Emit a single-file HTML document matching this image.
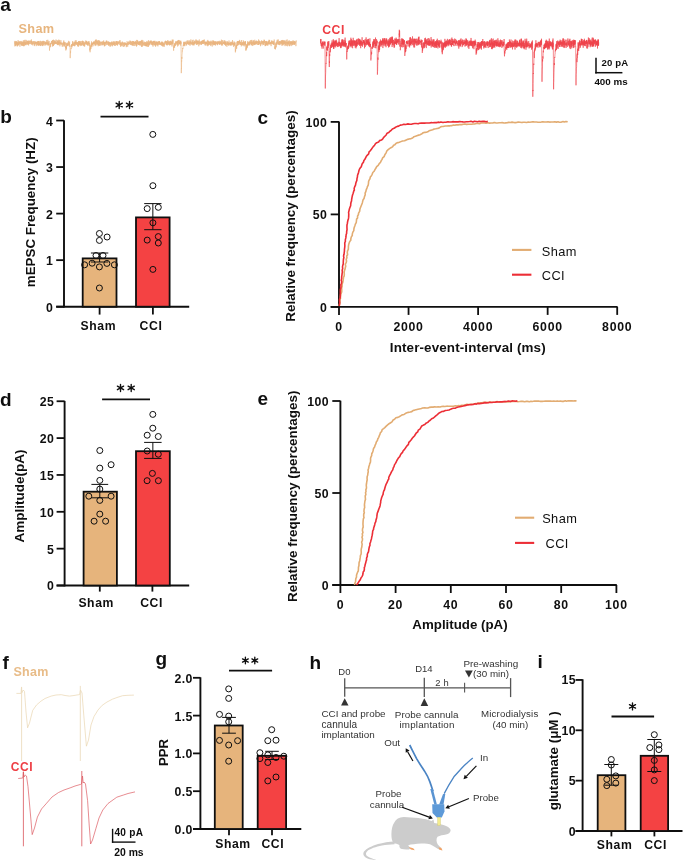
<!DOCTYPE html>
<html><head><meta charset="utf-8"><style>
html,body{margin:0;padding:0;background:#fff;}
body{width:685px;height:861px;overflow:hidden;}
svg{display:block;font-family:"Liberation Sans", sans-serif;will-change:transform;}
</style></head><body>
<svg width="685" height="861" viewBox="0 0 685 861">
<rect width="685" height="861" fill="#fff"/>
<text x="0.30" y="10.60" font-size="19" font-weight="bold" text-anchor="start" fill="#0f0f0f" >a</text>
<text x="0.30" y="123.20" font-size="19" font-weight="bold" text-anchor="start" fill="#0f0f0f" >b</text>
<text x="257.60" y="124.20" font-size="19" font-weight="bold" text-anchor="start" fill="#0f0f0f" >c</text>
<text x="0.00" y="406.20" font-size="19" font-weight="bold" text-anchor="start" fill="#0f0f0f" >d</text>
<text x="257.60" y="404.60" font-size="19" font-weight="bold" text-anchor="start" fill="#0f0f0f" >e</text>
<text x="2.40" y="669.20" font-size="19" font-weight="bold" text-anchor="start" fill="#0f0f0f" >f</text>
<text x="155.40" y="664.60" font-size="19" font-weight="bold" text-anchor="start" fill="#0f0f0f" >g</text>
<text x="309.40" y="669.30" font-size="19" font-weight="bold" text-anchor="start" fill="#0f0f0f" >h</text>
<text x="537.40" y="667.70" font-size="19" font-weight="bold" text-anchor="start" fill="#0f0f0f" >i</text>
<polyline points="14.40,41.59 14.50,42.59 14.60,43.22 14.70,43.13 14.80,43.49 14.90,46.40 15.00,40.92 15.10,43.32 15.20,44.25 15.30,41.69 15.40,45.38 15.50,44.06 15.60,45.99 15.70,43.62 15.80,44.78 15.90,41.47 16.00,43.61 16.10,41.60 16.20,43.84 16.30,43.62 16.40,41.26 16.50,44.00 16.60,42.12 16.70,44.10 16.80,45.06 16.90,41.95 17.00,45.50 17.10,43.11 17.20,46.44 17.30,42.56 17.40,43.98 17.50,46.05 17.60,46.00 17.70,44.48 17.80,43.77 17.90,41.79 18.00,43.60 18.10,40.17 18.20,45.50 18.30,43.85 18.40,44.99 18.50,43.06 18.60,45.05 18.70,44.15 18.80,41.45 18.90,44.27 19.00,43.97 19.10,42.18 19.20,41.98 19.30,44.34 19.40,41.61 19.50,42.12 19.60,41.66 19.70,43.20 19.80,41.94 19.90,46.65 20.00,44.80 20.10,43.37 20.20,41.63 20.30,41.76 20.40,40.97 20.50,43.64 20.60,43.16 20.70,42.83 20.80,44.27 20.90,42.90 21.00,42.56 21.10,44.44 21.20,42.09 21.30,42.40 21.40,45.07 21.50,43.50 21.60,43.62 21.70,45.79 21.80,40.96 21.90,43.97 22.00,41.61 22.10,45.49 22.20,43.73 22.30,44.27 22.40,42.10 22.50,43.41 22.60,44.07 22.70,45.65 22.80,42.60 22.90,45.78 23.00,42.69 23.10,43.76 23.20,42.96 23.30,44.50 23.40,40.28 23.50,44.91 23.60,45.93 23.70,42.01 23.80,46.35 23.90,41.99 24.00,44.22 24.10,41.19 24.20,42.47 24.30,43.92 24.40,42.39 24.50,45.64 24.60,41.84 24.70,39.86 24.80,42.88 24.90,43.01 25.00,42.41 25.10,45.20 25.20,45.00 25.30,42.30 25.40,44.14 25.50,41.77 25.60,43.66 25.70,44.84 25.80,43.93 25.90,39.81 26.00,45.23 26.10,43.25 26.20,42.95 26.30,44.29 26.40,40.54 26.50,43.49 26.60,43.55 26.70,43.52 26.80,43.40 26.90,42.51 27.00,42.44 27.10,44.29 27.20,42.39 27.30,43.75 27.40,40.73 27.50,42.14 27.60,43.54 27.70,44.23 27.80,40.98 27.90,44.80 28.00,41.73 28.10,44.24 28.20,42.39 28.30,41.37 28.40,42.75 28.50,42.39 28.60,45.49 28.70,40.50 28.80,43.25 28.90,41.82 29.00,43.77 29.10,40.92 29.20,41.78 29.30,40.87 29.40,42.82 29.50,42.84 29.60,43.58 29.70,43.08 29.80,43.08 29.90,43.27 30.00,44.19 30.10,41.11 30.20,40.65 30.30,41.69 30.40,40.62 30.50,42.79 30.60,43.47 30.70,42.75 30.80,43.50 30.90,41.95 31.00,41.04 31.10,41.23 31.20,41.78 31.30,43.72 31.40,39.44 31.50,42.82 31.60,44.08 31.70,44.83 31.80,41.19 31.90,42.73 32.00,43.35 32.10,43.52 32.20,41.41 32.30,42.87 32.40,42.90 32.50,44.01 32.60,43.26 32.70,45.33 32.80,42.60 32.90,41.57 33.00,42.96 33.10,44.07 33.20,42.34 33.30,43.63 33.40,43.11 33.50,42.21 33.60,41.67 33.70,42.09 33.80,41.49 33.90,42.52 34.00,41.18 34.10,44.63 34.20,43.34 34.30,44.31 34.40,46.08 34.50,42.46 34.60,43.13 34.70,44.17 34.80,44.17 34.90,42.60 35.00,41.11 35.10,44.34 35.20,43.80 35.30,42.08 35.40,43.09 35.50,42.99 35.60,42.12 35.70,43.24 35.80,41.74 35.90,44.35 36.00,42.76 36.10,42.54 36.20,46.14 36.30,45.24 36.40,43.29 36.50,41.99 36.60,43.67 36.70,42.18 36.80,42.47 36.90,41.65 37.00,41.86 37.10,45.22 37.20,44.21 37.30,45.30 37.40,44.98 37.50,41.86 37.60,44.15 37.70,44.37 37.80,41.29 37.90,42.60 38.00,43.56 38.10,43.84 38.20,40.98 38.30,42.68 38.40,41.05 38.50,45.31 38.60,43.32 38.70,45.82 38.80,41.70 38.90,44.34 39.00,43.67 39.10,42.63 39.20,45.17 39.30,44.91 39.40,43.76 39.50,44.65 39.60,43.22 39.70,41.19 39.80,43.83 39.90,44.92 40.00,43.16 40.10,45.74 40.20,45.99 40.30,40.82 40.40,41.30 40.50,42.13 40.60,42.30 40.70,46.04 40.80,43.20 40.90,43.14 41.00,41.43 41.10,43.35 41.20,42.82 41.30,43.15 41.40,41.42 41.50,43.95 41.60,45.07 41.70,45.34 41.80,42.59 41.90,44.09 42.00,44.45 42.10,42.72 42.20,45.28 42.30,45.53 42.40,42.84 42.50,40.94 42.60,46.08 42.70,42.13 42.80,42.67 42.90,43.41 43.00,43.58 43.10,44.15 43.20,41.79 43.30,42.97 43.40,40.86 43.50,43.87 43.60,45.20 43.70,41.85 43.80,41.26 43.90,42.85 44.00,43.84 44.10,45.67 44.20,43.48 44.30,44.06 44.40,43.26 44.50,43.36 44.60,42.49 44.70,43.00 44.80,41.01 44.90,44.20 45.00,42.63 45.10,43.16 45.20,44.34 45.30,43.84 45.40,42.47 45.50,43.49 45.60,42.47 45.70,45.49 45.80,42.57 45.90,43.98 46.00,41.98 46.10,41.89 46.20,44.88 46.30,42.47 46.40,43.59 46.50,43.26 46.60,40.90 46.70,40.04 46.80,40.06 46.90,43.17 47.00,44.08 47.10,43.11 47.20,43.95 47.30,43.57 47.40,41.84 47.50,43.76 47.60,44.06 47.70,45.15 47.80,39.79 47.90,41.86 48.00,43.31 48.10,45.56 48.20,44.11 48.30,45.06 48.40,41.67 48.50,44.08 48.60,44.63 48.70,43.24 48.80,43.92 48.90,43.68 49.00,45.26 49.10,40.95 49.20,44.95 49.30,45.74 49.40,46.02 49.50,50.58 49.60,48.28 49.70,47.71 49.80,47.67 49.90,46.71 50.00,47.18 50.10,45.90 50.20,44.06 50.30,44.67 50.40,45.50 50.50,43.01 50.60,47.06 50.70,45.73 50.80,45.17 50.90,43.89 51.00,42.90 51.10,44.09 51.20,42.18 51.30,41.76 51.40,42.34 51.50,42.55 51.60,41.22 51.70,41.88 51.80,41.02 51.90,43.83 52.00,42.66 52.10,43.26 52.20,41.28 52.30,44.19 52.40,40.20 52.50,46.49 52.60,43.97 52.70,43.54 52.80,42.58 52.90,40.05 53.00,44.76 53.10,42.27 53.20,46.09 53.30,40.98 53.40,39.69 53.50,45.97 53.60,43.98 53.70,42.67 53.80,42.57 53.90,44.83 54.00,42.99 54.10,41.81 54.20,42.88 54.30,40.49 54.40,42.46 54.50,44.36 54.60,43.04 54.70,40.58 54.80,43.98 54.90,41.89 55.00,41.10 55.10,43.31 55.20,43.62 55.30,41.89 55.40,43.35 55.50,41.70 55.60,43.71 55.70,42.97 55.80,43.16 55.90,43.30 56.00,39.52 56.10,43.84 56.20,43.93 56.30,43.15 56.40,42.68 56.50,43.35 56.60,42.47 56.70,43.98 56.80,42.89 56.90,43.36 57.00,41.43 57.10,40.00 57.20,44.60 57.30,44.86 57.40,43.89 57.50,41.28 57.60,45.05 57.70,43.18 57.80,40.81 57.90,43.48 58.00,41.82 58.10,42.13 58.20,43.96 58.30,45.16 58.40,41.91 58.50,43.84 58.60,39.71 58.70,44.19 58.80,41.52 58.90,42.88 59.00,45.00 59.10,42.21 59.20,41.43 59.30,42.53 59.40,43.67 59.50,42.73 59.60,39.91 59.70,42.84 59.80,44.29 59.90,46.29 60.00,43.72 60.10,41.93 60.20,44.35 60.30,42.66 60.40,43.86 60.50,43.98 60.60,43.22 60.70,44.05 60.80,42.93 60.90,40.21 61.00,44.32 61.10,43.19 61.20,42.91 61.30,44.79 61.40,44.14 61.50,43.45 61.60,43.87 61.70,42.62 61.80,42.66 61.90,42.46 62.00,43.58 62.10,44.05 62.20,46.61 62.30,44.37 62.40,44.37 62.50,44.18 62.60,43.80 62.70,43.81 62.80,43.70 62.90,42.84 63.00,46.59 63.10,43.08 63.20,44.80 63.30,42.65 63.40,44.52 63.50,43.36 63.60,41.68 63.70,42.51 63.80,40.43 63.90,42.56 64.00,45.84 64.10,41.96 64.20,43.68 64.30,42.40 64.40,46.54 64.50,44.49 64.60,43.36 64.70,43.37 64.80,45.51 64.90,43.12 65.00,44.83 65.10,44.29 65.20,42.15 65.30,42.44 65.40,42.62 65.50,44.51 65.60,48.02 65.70,46.14 65.80,50.46 65.90,48.44 66.00,47.89 66.10,46.19 66.20,48.69 66.30,46.33 66.40,49.43 66.50,42.88 66.60,45.28 66.70,45.05 66.80,45.32 66.90,44.54 67.00,46.29 67.10,44.50 67.20,45.71 67.30,43.36 67.40,43.51 67.50,45.19 67.60,42.60 67.70,45.63 67.80,44.64 67.90,44.76 68.00,44.26 68.10,44.27 68.20,45.56 68.30,44.07 68.40,43.46 68.50,40.88 68.60,41.57 68.70,44.44 68.80,42.41 68.90,44.84 69.00,44.64 69.10,46.20 69.20,44.92 69.30,43.73 69.40,43.99 69.50,44.58 69.60,41.55 69.70,44.35 69.80,46.86 69.90,45.86 70.00,45.41 70.10,53.03 70.20,58.13 70.30,55.14 70.40,54.47 70.50,51.55 70.60,52.52 70.70,50.21 70.80,49.83 70.90,49.12 71.00,48.19 71.10,47.88 71.20,48.82 71.30,45.73 71.40,45.86 71.50,44.88 71.60,46.74 71.70,45.33 71.80,43.99 71.90,47.40 72.00,45.12 72.10,43.96 72.20,44.42 72.30,45.59 72.40,46.08 72.50,41.19 72.60,43.47 72.70,44.79 72.80,42.56 72.90,44.01 73.00,45.38 73.10,44.42 73.20,43.79 73.30,44.94 73.40,44.52 73.50,44.35 73.60,43.70 73.70,45.90 73.80,42.84 73.90,42.97 74.00,41.57 74.10,43.03 74.20,45.97 74.30,44.43 74.40,42.46 74.50,42.96 74.60,44.02 74.70,46.30 74.80,45.27 74.90,43.46 75.00,42.23 75.10,45.59 75.20,40.60 75.30,42.96 75.40,44.53 75.50,42.23 75.60,43.92 75.70,42.52 75.80,42.24 75.90,43.07 76.00,40.12 76.10,42.39 76.20,43.51 76.30,43.80 76.40,42.59 76.50,44.99 76.60,42.96 76.70,41.75 76.80,42.29 76.90,43.11 77.00,42.74 77.10,44.12 77.20,43.91 77.30,43.82 77.40,42.57 77.50,43.41 77.60,46.12 77.70,42.04 77.80,44.54 77.90,43.90 78.00,46.16 78.10,45.90 78.20,43.15 78.30,46.81 78.40,42.42 78.50,43.32 78.60,44.06 78.70,41.12 78.80,42.72 78.90,41.02 79.00,44.72 79.10,43.22 79.20,42.81 79.30,42.37 79.40,45.09 79.50,41.58 79.60,40.97 79.70,44.57 79.80,42.11 79.90,42.57 80.00,42.65 80.10,42.53 80.20,46.11 80.30,42.51 80.40,45.18 80.50,43.88 80.60,43.66 80.70,44.29 80.80,41.03 80.90,43.68 81.00,42.45 81.10,41.63 81.20,41.17 81.30,41.14 81.40,45.57 81.50,44.58 81.60,45.33 81.70,43.17 81.80,44.49 81.90,43.30 82.00,45.03 82.10,43.61 82.20,45.45 82.30,44.88 82.40,41.21 82.50,44.04 82.60,40.68 82.70,44.03 82.80,42.63 82.90,43.53 83.00,41.26 83.10,42.61 83.20,44.48 83.30,43.33 83.40,42.86 83.50,45.65 83.60,42.97 83.70,41.31 83.80,45.57 83.90,44.14 84.00,44.84 84.10,42.20 84.20,46.47 84.30,46.44 84.40,43.79 84.50,43.02 84.60,43.08 84.70,46.42 84.80,42.82 84.90,43.01 85.00,43.42 85.10,42.78 85.20,41.77 85.30,43.22 85.40,42.51 85.50,42.55 85.60,43.92 85.70,42.71 85.80,40.43 85.90,42.46 86.00,44.91 86.10,44.08 86.20,43.58 86.30,43.05 86.40,40.99 86.50,44.19 86.60,41.08 86.70,43.46 86.80,42.91 86.90,41.84 87.00,41.61 87.10,44.70 87.20,42.05 87.30,43.17 87.40,43.11 87.50,44.98 87.60,43.25 87.70,43.56 87.80,42.84 87.90,46.05 88.00,42.54 88.10,43.13 88.20,41.40 88.30,44.78 88.40,43.06 88.50,43.92 88.60,42.85 88.70,42.28 88.80,41.69 88.90,44.19 89.00,41.23 89.10,44.28 89.20,44.08 89.30,46.00 89.40,43.86 89.50,42.98 89.60,44.57 89.70,47.23 89.80,50.48 89.90,48.56 90.00,50.87 90.10,52.26 90.20,45.58 90.30,49.39 90.40,48.84 90.50,46.69 90.60,46.59 90.70,46.99 90.80,46.62 90.90,49.06 91.00,44.79 91.10,46.25 91.20,43.52 91.30,44.17 91.40,46.36 91.50,41.42 91.60,45.32 91.70,44.62 91.80,47.18 91.90,43.28 92.00,45.01 92.10,44.77 92.20,43.56 92.30,44.89 92.40,44.71 92.50,42.93 92.60,44.66 92.70,42.49 92.80,42.42 92.90,42.66 93.00,46.28 93.10,43.70 93.20,42.83 93.30,43.78 93.40,41.99 93.50,43.83 93.60,43.35 93.70,41.49 93.80,43.73 93.90,43.72 94.00,41.74 94.10,44.32 94.20,42.16 94.30,44.12 94.40,41.28 94.50,43.24 94.60,42.80 94.70,42.11 94.80,43.63 94.90,42.34 95.00,44.65 95.10,43.92 95.20,46.07 95.30,40.10 95.40,44.98 95.50,44.57 95.60,44.60 95.70,39.64 95.80,42.49 95.90,42.93 96.00,45.49 96.10,44.50 96.20,44.08 96.30,43.27 96.40,39.64 96.50,42.77 96.60,42.95 96.70,40.97 96.80,44.05 96.90,43.16 97.00,43.53 97.10,45.04 97.20,41.40 97.30,43.75 97.40,42.74 97.50,40.47 97.60,43.20 97.70,44.05 97.80,41.75 97.90,44.33 98.00,41.83 98.10,45.36 98.20,46.23 98.30,44.71 98.40,40.06 98.50,45.31 98.60,44.28 98.70,43.98 98.80,45.20 98.90,42.43 99.00,41.49 99.10,41.92 99.20,40.33 99.30,43.28 99.40,42.28 99.50,45.90 99.60,40.90 99.70,43.91 99.80,44.35 99.90,44.49 100.00,43.45 100.10,43.96 100.20,41.92 100.30,42.58 100.40,43.06 100.50,43.03 100.60,45.64 100.70,43.81 100.80,41.65 100.90,41.65 101.00,41.73 101.10,42.89 101.20,41.84 101.30,44.45 101.40,43.84 101.50,43.16 101.60,42.02 101.70,42.47 101.80,45.33 101.90,43.94 102.00,43.81 102.10,43.97 102.20,43.88 102.30,41.22 102.40,42.86 102.50,42.56 102.60,45.20 102.70,42.13 102.80,43.01 102.90,44.38 103.00,43.28 103.10,42.46 103.20,44.91 103.30,41.35 103.40,44.28 103.50,43.44 103.60,41.64 103.70,40.44 103.80,42.72 103.90,41.86 104.00,43.78 104.10,41.88 104.20,43.63 104.30,46.24 104.40,42.19 104.50,43.27 104.60,46.21 104.70,42.45 104.80,43.89 104.90,42.65 105.00,45.82 105.10,43.13 105.20,42.66 105.30,42.43 105.40,43.93 105.50,42.01 105.60,42.54 105.70,42.06 105.80,42.17 105.90,41.86 106.00,45.23 106.10,41.63 106.20,42.94 106.30,40.52 106.40,42.92 106.50,41.45 106.60,41.20 106.70,43.97 106.80,44.82 106.90,44.63 107.00,40.81 107.10,41.93 107.20,41.95 107.30,41.96 107.40,44.65 107.50,44.63 107.60,43.95 107.70,41.81 107.80,42.51 107.90,43.30 108.00,43.49 108.10,42.86 108.20,41.84 108.30,42.70 108.40,44.98 108.50,42.00 108.60,41.43 108.70,45.91 108.80,43.91 108.90,43.22 109.00,44.75 109.10,44.62 109.20,41.93 109.30,45.48 109.40,42.50 109.50,42.47 109.60,43.55 109.70,43.42 109.80,43.68 109.90,42.41 110.00,45.42 110.10,46.80 110.20,43.87 110.30,42.54 110.40,43.54 110.50,43.93 110.60,42.55 110.70,46.13 110.80,44.63 110.90,44.21 111.00,44.11 111.10,44.40 111.20,43.87 111.30,43.16 111.40,44.14 111.50,42.22 111.60,43.20 111.70,43.16 111.80,45.56 111.90,41.42 112.00,45.11 112.10,41.84 112.20,44.11 112.30,43.54 112.40,46.32 112.50,46.19 112.60,44.31 112.70,42.84 112.80,43.47 112.90,44.35 113.00,44.08 113.10,42.16 113.20,43.74 113.30,45.17 113.40,43.90 113.50,43.46 113.60,44.75 113.70,41.12 113.80,43.24 113.90,42.48 114.00,45.12 114.10,42.24 114.20,43.40 114.30,44.12 114.40,43.09 114.50,45.92 114.60,45.31 114.70,41.42 114.80,43.61 114.90,44.50 115.00,43.51 115.10,42.29 115.20,43.00 115.30,42.95 115.40,44.11 115.50,45.82 115.60,45.65 115.70,43.18 115.80,43.72 115.90,41.38 116.00,42.19 116.10,42.85 116.20,44.47 116.30,41.03 116.40,41.22 116.50,41.10 116.60,45.04 116.70,43.40 116.80,42.34 116.90,44.60 117.00,41.09 117.10,43.12 117.20,41.73 117.30,42.21 117.40,45.70 117.50,43.23 117.60,44.55 117.70,44.31 117.80,44.30 117.90,43.00 118.00,41.29 118.10,43.70 118.20,42.59 118.30,43.06 118.40,42.83 118.50,43.07 118.60,41.54 118.70,43.32 118.80,43.81 118.90,42.72 119.00,43.02 119.10,43.96 119.20,44.25 119.30,44.92 119.40,41.52 119.50,40.63 119.60,42.74 119.70,42.74 119.80,42.18 119.90,42.79 120.00,42.72 120.10,40.22 120.20,44.22 120.30,43.57 120.40,45.55 120.50,44.48 120.60,42.52 120.70,46.88 120.80,42.91 120.90,44.14 121.00,44.27 121.10,43.97 121.20,42.89 121.30,45.08 121.40,44.90 121.50,43.16 121.60,43.68 121.70,44.60 121.80,45.82 121.90,41.89 122.00,46.08 122.10,45.43 122.20,44.08 122.30,44.60 122.40,41.62 122.50,42.90 122.60,42.82 122.70,44.22 122.80,42.62 122.90,43.27 123.00,44.69 123.10,45.56 123.20,46.94 123.30,46.34 123.40,46.32 123.50,43.50 123.60,44.56 123.70,42.39 123.80,44.06 123.90,43.43 124.00,43.03 124.10,44.80 124.20,46.64 124.30,43.69 124.40,44.52 124.50,45.90 124.60,42.58 124.70,43.20 124.80,43.28 124.90,44.33 125.00,43.19 125.10,42.55 125.20,44.35 125.30,42.75 125.40,44.52 125.50,43.19 125.60,44.81 125.70,45.18 125.80,43.98 125.90,44.96 126.00,45.09 126.10,44.53 126.20,43.59 126.30,47.14 126.40,45.30 126.50,43.91 126.60,43.12 126.70,46.28 126.80,43.29 126.90,43.07 127.00,41.23 127.10,41.83 127.20,41.89 127.30,41.88 127.40,42.21 127.50,44.71 127.60,43.37 127.70,46.71 127.80,44.12 127.90,43.77 128.00,42.04 128.10,44.30 128.20,43.64 128.30,42.41 128.40,43.45 128.50,44.87 128.60,43.45 128.70,41.42 128.80,41.73 128.90,41.91 129.00,42.10 129.10,43.80 129.20,43.31 129.30,43.77 129.40,43.01 129.50,43.98 129.60,43.61 129.70,41.62 129.80,42.89 129.90,43.67 130.00,40.45 130.10,44.87 130.20,44.11 130.30,44.36 130.40,43.23 130.50,43.19 130.60,41.94 130.70,41.03 130.80,43.20 130.90,45.07 131.00,41.63 131.10,43.21 131.20,43.96 131.30,42.06 131.40,41.78 131.50,43.07 131.60,43.62 131.70,45.00 131.80,42.13 131.90,42.57 132.00,44.88 132.10,44.99 132.20,45.58 132.30,40.97 132.40,45.19 132.50,43.05 132.60,45.20 132.70,41.02 132.80,41.36 132.90,42.69 133.00,44.63 133.10,41.44 133.20,44.24 133.30,45.85 133.40,42.47 133.50,42.44 133.60,41.05 133.70,43.78 133.80,41.84 133.90,44.02 134.00,42.16 134.10,43.75 134.20,43.18 134.30,46.05 134.40,44.04 134.50,42.02 134.60,42.95 134.70,41.95 134.80,43.93 134.90,42.15 135.00,43.18 135.10,41.74 135.20,44.46 135.30,40.89 135.40,44.20 135.50,42.75 135.60,43.95 135.70,43.03 135.80,43.03 135.90,45.84 136.00,41.57 136.10,43.13 136.20,42.86 136.30,42.01 136.40,42.85 136.50,46.58 136.60,43.21 136.70,42.40 136.80,46.00 136.90,39.88 137.00,43.58 137.10,39.97 137.20,43.15 137.30,43.45 137.40,43.05 137.50,44.31 137.60,41.18 137.70,43.02 137.80,43.16 137.90,43.82 138.00,41.71 138.10,40.89 138.20,42.18 138.30,45.05 138.40,42.85 138.50,44.36 138.60,42.40 138.70,43.46 138.80,41.83 138.90,44.71 139.00,43.68 139.10,42.10 139.20,43.04 139.30,43.25 139.40,44.96 139.50,41.56 139.60,44.86 139.70,44.74 139.80,41.11 139.90,41.51 140.00,43.55 140.10,45.83 140.20,41.43 140.30,44.92 140.40,43.51 140.50,41.95 140.60,42.98 140.70,40.86 140.80,42.86 140.90,44.24 141.00,41.65 141.10,42.30 141.20,41.64 141.30,44.01 141.40,44.76 141.50,46.73 141.60,41.26 141.70,43.37 141.80,40.18 141.90,42.33 142.00,39.88 142.10,46.71 142.20,44.01 142.30,46.39 142.40,41.74 142.50,42.44 142.60,44.05 142.70,42.38 142.80,43.31 142.90,43.37 143.00,40.49 143.10,45.02 143.20,44.58 143.30,45.02 143.40,44.53 143.50,42.90 143.60,44.11 143.70,43.90 143.80,42.54 143.90,45.74 144.00,45.89 144.10,44.27 144.20,45.54 144.30,41.65 144.40,43.08 144.50,43.55 144.60,42.91 144.70,45.28 144.80,44.27 144.90,42.21 145.00,44.08 145.10,44.64 145.20,45.72 145.30,44.70 145.40,45.43 145.50,44.00 145.60,41.94 145.70,45.90 145.80,44.38 145.90,42.72 146.00,46.09 146.10,43.62 146.20,46.51 146.30,42.81 146.40,43.34 146.50,46.12 146.60,43.43 146.70,45.95 146.80,41.55 146.90,43.37 147.00,41.00 147.10,40.90 147.20,41.55 147.30,43.48 147.40,44.14 147.50,45.31 147.60,41.99 147.70,44.02 147.80,46.99 147.90,43.22 148.00,44.14 148.10,43.31 148.20,45.18 148.30,43.01 148.40,46.81 148.50,40.29 148.60,42.29 148.70,42.90 148.80,44.26 148.90,44.54 149.00,45.65 149.10,41.61 149.20,41.55 149.30,43.94 149.40,41.46 149.50,43.24 149.60,44.89 149.70,43.44 149.80,42.81 149.90,42.78 150.00,44.68 150.10,44.36 150.20,43.47 150.30,40.44 150.40,43.44 150.50,41.35 150.60,43.23 150.70,41.06 150.80,42.96 150.90,41.79 151.00,41.55 151.10,42.78 151.20,43.00 151.30,42.72 151.40,42.37 151.50,40.62 151.60,44.82 151.70,42.48 151.80,44.03 151.90,42.48 152.00,43.42 152.10,44.51 152.20,41.67 152.30,45.27 152.40,41.76 152.50,44.99 152.60,42.62 152.70,44.02 152.80,42.13 152.90,45.19 153.00,46.63 153.10,41.02 153.20,43.58 153.30,42.61 153.40,43.46 153.50,43.72 153.60,41.11 153.70,42.07 153.80,45.25 153.90,40.82 154.00,44.14 154.10,44.84 154.20,42.40 154.30,41.46 154.40,40.96 154.50,43.35 154.60,45.36 154.70,41.82 154.80,42.67 154.90,42.16 155.00,42.82 155.10,40.85 155.20,45.11 155.30,44.22 155.40,43.64 155.50,42.99 155.60,46.74 155.70,42.33 155.80,45.30 155.90,45.92 156.00,43.86 156.10,42.06 156.20,42.62 156.30,44.78 156.40,41.57 156.50,42.69 156.60,41.72 156.70,44.31 156.80,44.15 156.90,43.96 157.00,44.54 157.10,41.72 157.20,43.96 157.30,42.27 157.40,43.66 157.50,45.36 157.60,43.14 157.70,42.17 157.80,44.45 157.90,46.37 158.00,41.68 158.10,43.00 158.20,44.32 158.30,42.96 158.40,41.39 158.50,42.90 158.60,43.31 158.70,44.61 158.80,43.58 158.90,44.53 159.00,44.10 159.10,41.26 159.20,42.80 159.30,42.98 159.40,41.04 159.50,44.01 159.60,42.44 159.70,41.66 159.80,44.93 159.90,43.31 160.00,42.97 160.10,44.02 160.20,44.51 160.30,44.72 160.40,43.99 160.50,43.11 160.60,44.90 160.70,42.62 160.80,43.81 160.90,43.88 161.00,43.10 161.10,43.49 161.20,42.90 161.30,42.04 161.40,45.91 161.50,43.59 161.60,44.72 161.70,42.45 161.80,44.07 161.90,41.35 162.00,44.09 162.10,44.85 162.20,44.11 162.30,42.72 162.40,42.80 162.50,46.00 162.60,42.70 162.70,41.94 162.80,44.23 162.90,42.06 163.00,46.83 163.10,43.15 163.20,46.10 163.30,44.74 163.40,44.27 163.50,44.93 163.60,43.26 163.70,45.22 163.80,44.72 163.90,43.96 164.00,44.50 164.10,43.47 164.20,43.97 164.30,46.76 164.40,45.06 164.50,43.54 164.60,42.44 164.70,41.68 164.80,43.37 164.90,44.42 165.00,42.60 165.10,42.23 165.20,41.29 165.30,41.91 165.40,43.22 165.50,40.80 165.60,42.71 165.70,40.86 165.80,41.24 165.90,44.05 166.00,43.67 166.10,43.99 166.20,44.66 166.30,42.01 166.40,41.62 166.50,43.29 166.60,45.19 166.70,41.13 166.80,44.04 166.90,44.73 167.00,42.40 167.10,42.90 167.20,41.56 167.30,45.41 167.40,41.80 167.50,43.95 167.60,43.57 167.70,40.16 167.80,44.55 167.90,43.91 168.00,43.45 168.10,42.06 168.20,43.12 168.30,44.62 168.40,44.79 168.50,43.31 168.60,43.74 168.70,40.76 168.80,43.22 168.90,41.91 169.00,44.06 169.10,42.46 169.20,41.77 169.30,42.94 169.40,45.20 169.50,41.31 169.60,43.93 169.70,45.36 169.80,42.45 169.90,42.93 170.00,43.47 170.10,43.17 170.20,44.69 170.30,42.88 170.40,42.90 170.50,44.78 170.60,40.77 170.70,43.04 170.80,41.20 170.90,42.90 171.00,41.48 171.10,43.35 171.20,44.97 171.30,42.62 171.40,41.71 171.50,43.48 171.60,42.42 171.70,43.90 171.80,41.91 171.90,44.64 172.00,46.49 172.10,44.30 172.20,39.63 172.30,42.70 172.40,42.67 172.50,44.38 172.60,40.56 172.70,42.77 172.80,43.92 172.90,42.47 173.00,42.29 173.10,39.61 173.20,41.78 173.30,44.08 173.40,45.58 173.50,46.72 173.60,50.67 173.70,48.53 173.80,46.48 173.90,47.40 174.00,47.94 174.10,44.90 174.20,45.58 174.30,46.78 174.40,47.41 174.50,43.78 174.60,47.38 174.70,45.21 174.80,42.91 174.90,44.94 175.00,44.77 175.10,44.39 175.20,45.70 175.30,44.55 175.40,43.87 175.50,42.54 175.60,45.66 175.70,41.29 175.80,42.70 175.90,43.18 176.00,43.80 176.10,43.31 176.20,41.76 176.30,42.06 176.40,43.04 176.50,41.96 176.60,42.97 176.70,42.54 176.80,43.65 176.90,44.77 177.00,41.22 177.10,43.56 177.20,41.17 177.30,44.46 177.40,41.54 177.50,40.74 177.60,46.48 177.70,44.25 177.80,42.96 177.90,41.10 178.00,42.34 178.10,41.76 178.20,42.77 178.30,40.03 178.40,42.92 178.50,45.46 178.60,43.77 178.70,41.51 178.80,39.96 178.90,42.75 179.00,44.02 179.10,41.96 179.20,42.35 179.30,42.11 179.40,43.52 179.50,42.21 179.60,44.34 179.70,40.34 179.80,44.19 179.90,42.83 180.00,41.19 180.10,43.62 180.20,42.19 180.30,42.50 180.40,43.50 180.50,42.18 180.60,41.19 180.70,45.62 180.80,40.72 180.90,44.00 181.00,41.95 181.10,53.96 181.20,60.07 181.30,73.14 181.40,68.39 181.50,68.73 181.60,60.64 181.70,61.32 181.80,57.09 181.90,58.73 182.00,55.68 182.10,54.23 182.20,53.73 182.30,50.74 182.40,51.30 182.50,49.80 182.60,48.78 182.70,47.96 182.80,49.21 182.90,47.91 183.00,47.80 183.10,46.54 183.20,44.83 183.30,45.13 183.40,44.87 183.50,45.90 183.60,44.42 183.70,42.40 183.80,43.01 183.90,45.51 184.00,41.63 184.10,44.58 184.20,41.95 184.30,45.35 184.40,43.16 184.50,43.49 184.60,43.61 184.70,46.18 184.80,42.08 184.90,43.23 185.00,43.11 185.10,44.13 185.20,42.82 185.30,43.18 185.40,42.56 185.50,41.64 185.60,42.06 185.70,44.25 185.80,42.53 185.90,44.00 186.00,44.15 186.10,45.47 186.20,44.95 186.30,45.17 186.40,45.29 186.50,44.43 186.60,42.54 186.70,44.66 186.80,44.18 186.90,40.92 187.00,42.78 187.10,43.10 187.20,41.24 187.30,40.32 187.40,41.59 187.50,43.94 187.60,42.38 187.70,43.36 187.80,42.12 187.90,42.77 188.00,44.30 188.10,41.22 188.20,41.53 188.30,41.97 188.40,42.99 188.50,43.08 188.60,42.96 188.70,43.12 188.80,44.72 188.90,40.28 189.00,44.68 189.10,42.01 189.20,42.18 189.30,44.15 189.40,43.14 189.50,43.06 189.60,43.00 189.70,42.71 189.80,40.59 189.90,41.04 190.00,45.78 190.10,42.27 190.20,41.82 190.30,42.63 190.40,41.46 190.50,43.35 190.60,41.99 190.70,44.32 190.80,43.50 190.90,39.44 191.00,41.75 191.10,44.13 191.20,43.65 191.30,43.72 191.40,44.23 191.50,43.49 191.60,43.06 191.70,44.26 191.80,41.78 191.90,42.78 192.00,43.97 192.10,41.91 192.20,44.62 192.30,43.09 192.40,40.27 192.50,43.53 192.60,42.60 192.70,45.33 192.80,42.99 192.90,42.25 193.00,42.57 193.10,43.83 193.20,39.78 193.30,44.90 193.40,44.29 193.50,44.69 193.60,42.07 193.70,42.95 193.80,43.86 193.90,45.56 194.00,42.56 194.10,41.97 194.20,44.06 194.30,41.66 194.40,41.17 194.50,44.27 194.60,41.43 194.70,42.95 194.80,44.17 194.90,41.90 195.00,40.42 195.10,43.39 195.20,42.78 195.30,42.13 195.40,42.74 195.50,42.88 195.60,43.41 195.70,43.15 195.80,41.63 195.90,42.63 196.00,39.35 196.10,42.69 196.20,43.13 196.30,40.46 196.40,44.96 196.50,43.31 196.60,42.11 196.70,40.74 196.80,41.85 196.90,43.71 197.00,44.17 197.10,42.63 197.20,44.80 197.30,43.13 197.40,40.65 197.50,43.64 197.60,40.93 197.70,42.95 197.80,44.04 197.90,42.89 198.00,42.82 198.10,40.61 198.20,44.05 198.30,43.36 198.40,43.10 198.50,42.59 198.60,43.35 198.70,40.94 198.80,46.27 198.90,43.47 199.00,41.45 199.10,40.97 199.20,40.34 199.30,39.53 199.40,43.62 199.50,44.05 199.60,44.64 199.70,41.73 199.80,43.48 199.90,44.05 200.00,41.72 200.10,41.14 200.20,43.24 200.30,42.97 200.40,42.04 200.50,42.45 200.60,43.70 200.70,42.94 200.80,43.12 200.90,44.89 201.00,42.94 201.10,41.57 201.20,42.69 201.30,42.54 201.40,42.21 201.50,44.80 201.60,41.23 201.70,43.42 201.80,41.41 201.90,43.34 202.00,41.66 202.10,43.46 202.20,40.72 202.30,42.61 202.40,40.17 202.50,41.37 202.60,44.05 202.70,41.27 202.80,42.97 202.90,41.41 203.00,42.07 203.10,43.29 203.20,42.19 203.30,43.99 203.40,40.78 203.50,41.91 203.60,40.25 203.70,42.22 203.80,40.18 203.90,42.59 204.00,44.07 204.10,41.47 204.20,39.44 204.30,42.40 204.40,42.61 204.50,42.27 204.60,43.15 204.70,43.00 204.80,41.87 204.90,41.94 205.00,44.74 205.10,41.76 205.20,45.48 205.30,44.46 205.40,41.79 205.50,43.48 205.60,42.07 205.70,44.12 205.80,43.83 205.90,41.81 206.00,42.65 206.10,45.54 206.20,44.53 206.30,42.75 206.40,43.97 206.50,41.97 206.60,44.04 206.70,41.84 206.80,44.15 206.90,43.38 207.00,44.01 207.10,42.77 207.20,40.89 207.30,41.04 207.40,44.06 207.50,44.75 207.60,43.29 207.70,46.22 207.80,39.91 207.90,42.82 208.00,45.51 208.10,41.73 208.20,42.24 208.30,41.73 208.40,44.33 208.50,45.26 208.60,43.67 208.70,42.15 208.80,40.98 208.90,42.60 209.00,44.58 209.10,41.43 209.20,43.12 209.30,44.24 209.40,42.25 209.50,42.60 209.60,41.85 209.70,43.36 209.80,43.72 209.90,45.06 210.00,42.05 210.10,42.73 210.20,42.26 210.30,44.73 210.40,43.52 210.50,42.94 210.60,41.45 210.70,43.89 210.80,46.07 210.90,43.71 211.00,40.62 211.10,42.09 211.20,42.86 211.30,42.86 211.40,41.56 211.50,43.22 211.60,44.65 211.70,42.07 211.80,42.97 211.90,43.01 212.00,42.81 212.10,42.77 212.20,46.50 212.30,44.39 212.40,42.65 212.50,41.37 212.60,40.53 212.70,40.38 212.80,43.71 212.90,41.51 213.00,44.28 213.10,42.59 213.20,44.77 213.30,43.79 213.40,44.35 213.50,40.60 213.60,43.76 213.70,42.89 213.80,40.87 213.90,45.31 214.00,41.58 214.10,42.56 214.20,44.37 214.30,42.51 214.40,43.56 214.50,42.37 214.60,44.97 214.70,44.23 214.80,41.33 214.90,44.60 215.00,43.00 215.10,44.25 215.20,41.20 215.30,42.63 215.40,41.85 215.50,45.51 215.60,44.75 215.70,42.00 215.80,43.63 215.90,43.74 216.00,41.55 216.10,42.84 216.20,43.63 216.30,42.84 216.40,43.85 216.50,42.25 216.60,42.02 216.70,41.92 216.80,41.49 216.90,43.09 217.00,42.80 217.10,43.96 217.20,44.91 217.30,42.16 217.40,45.21 217.50,41.57 217.60,41.83 217.70,43.94 217.80,43.39 217.90,44.36 218.00,41.29 218.10,43.89 218.20,43.04 218.30,42.52 218.40,43.20 218.50,43.40 218.60,43.20 218.70,41.32 218.80,43.00 218.90,42.01 219.00,42.47 219.10,42.67 219.20,44.45 219.30,40.80 219.40,42.10 219.50,44.52 219.60,42.27 219.70,44.14 219.80,44.41 219.90,44.26 220.00,42.94 220.10,44.42 220.20,41.42 220.30,42.76 220.40,43.56 220.50,42.21 220.60,41.53 220.70,43.22 220.80,44.16 220.90,44.16 221.00,44.29 221.10,41.74 221.20,43.89 221.30,42.23 221.40,39.68 221.50,45.54 221.60,43.17 221.70,44.24 221.80,43.32 221.90,44.10 222.00,44.07 222.10,43.95 222.20,40.37 222.30,40.67 222.40,44.45 222.50,43.56 222.60,45.51 222.70,43.64 222.80,43.54 222.90,40.18 223.00,40.66 223.10,43.60 223.20,43.56 223.30,43.20 223.40,42.21 223.50,43.63 223.60,41.78 223.70,43.25 223.80,44.09 223.90,42.83 224.00,42.33 224.10,42.62 224.20,43.72 224.30,41.13 224.40,43.61 224.50,42.47 224.60,44.57 224.70,40.13 224.80,43.74 224.90,41.95 225.00,44.97 225.10,42.66 225.20,43.54 225.30,41.96 225.40,44.58 225.50,42.53 225.60,46.05 225.70,45.45 225.80,40.97 225.90,43.75 226.00,42.47 226.10,45.24 226.20,45.12 226.30,44.08 226.40,43.82 226.50,43.97 226.60,44.03 226.70,43.86 226.80,42.50 226.90,46.74 227.00,44.37 227.10,43.49 227.20,41.02 227.30,42.33 227.40,44.70 227.50,44.40 227.60,42.20 227.70,44.61 227.80,42.30 227.90,42.61 228.00,43.91 228.10,45.20 228.20,45.13 228.30,42.72 228.40,44.21 228.50,45.59 228.60,42.69 228.70,44.78 228.80,44.48 228.90,43.68 229.00,40.53 229.10,43.76 229.20,42.53 229.30,43.85 229.40,44.18 229.50,43.17 229.60,44.53 229.70,43.58 229.80,44.32 229.90,45.57 230.00,43.51 230.10,44.22 230.20,44.69 230.30,43.11 230.40,43.15 230.50,44.83 230.60,42.02 230.70,45.60 230.80,43.35 230.90,44.64 231.00,44.44 231.10,41.60 231.20,43.24 231.30,44.66 231.40,44.09 231.50,42.04 231.60,42.64 231.70,43.93 231.80,45.56 231.90,43.47 232.00,42.94 232.10,44.43 232.20,43.27 232.30,44.36 232.40,42.97 232.50,40.13 232.60,41.49 232.70,44.38 232.80,44.20 232.90,41.61 233.00,44.49 233.10,42.92 233.20,43.57 233.30,44.45 233.40,43.10 233.50,44.35 233.60,46.85 233.70,43.74 233.80,43.38 233.90,43.66 234.00,45.03 234.10,43.96 234.20,41.52 234.30,45.35 234.40,45.28 234.50,43.26 234.60,44.53 234.70,42.47 234.80,43.42 234.90,46.05 235.00,43.43 235.10,42.53 235.20,47.09 235.30,51.15 235.40,52.36 235.50,49.46 235.60,51.20 235.70,49.14 235.80,49.12 235.90,46.10 236.00,46.58 236.10,49.13 236.20,46.00 236.30,45.10 236.40,46.73 236.50,44.87 236.60,47.47 236.70,48.49 236.80,44.49 236.90,41.73 237.00,44.78 237.10,44.67 237.20,43.76 237.30,45.90 237.40,42.85 237.50,41.10 237.60,43.19 237.70,43.11 237.80,41.60 237.90,45.42 238.00,44.95 238.10,41.02 238.20,44.24 238.30,43.52 238.40,41.10 238.50,42.94 238.60,41.70 238.70,44.82 238.80,44.84 238.90,44.04 239.00,44.36 239.10,42.34 239.20,40.75 239.30,42.72 239.40,43.18 239.50,43.83 239.60,39.92 239.70,40.09 239.80,43.04 239.90,41.14 240.00,43.47 240.10,42.07 240.20,44.91 240.30,43.70 240.40,42.05 240.50,43.47 240.60,44.91 240.70,44.07 240.80,44.68 240.90,43.32 241.00,44.62 241.10,42.23 241.20,43.27 241.30,46.39 241.40,43.75 241.50,42.41 241.60,40.09 241.70,44.21 241.80,43.99 241.90,43.63 242.00,45.27 242.10,42.73 242.20,44.72 242.30,42.93 242.40,42.95 242.50,42.65 242.60,45.27 242.70,42.14 242.80,42.60 242.90,44.66 243.00,45.26 243.10,43.69 243.20,43.55 243.30,40.39 243.40,42.95 243.50,41.63 243.60,45.43 243.70,44.80 243.80,43.36 243.90,44.61 244.00,42.32 244.10,43.06 244.20,46.37 244.30,43.65 244.40,44.19 244.50,42.45 244.60,41.92 244.70,43.87 244.80,43.26 244.90,43.36 245.00,41.54 245.10,44.95 245.20,41.03 245.30,45.35 245.40,41.48 245.50,42.82 245.60,42.70 245.70,47.98 245.80,48.23 245.90,50.78 246.00,48.27 246.10,49.91 246.20,46.91 246.30,44.46 246.40,49.10 246.50,46.43 246.60,46.64 246.70,45.41 246.80,48.30 246.90,45.54 247.00,45.11 247.10,43.91 247.20,47.83 247.30,44.19 247.40,46.61 247.50,41.32 247.60,43.72 247.70,45.68 247.80,43.17 247.90,45.65 248.00,45.65 248.10,44.41 248.20,44.99 248.30,42.35 248.40,42.87 248.50,44.20 248.60,43.49 248.70,44.62 248.80,41.61 248.90,45.33 249.00,44.01 249.10,44.17 249.20,43.17 249.30,41.78 249.40,44.82 249.50,41.75 249.60,43.70 249.70,42.10 249.80,45.35 249.90,42.50 250.00,43.60 250.10,41.29 250.20,41.79 250.30,40.29 250.40,42.05 250.50,42.50 250.60,42.09 250.70,42.55 250.80,44.08 250.90,42.39 251.00,43.19 251.10,40.19 251.20,44.61 251.30,43.91 251.40,41.90 251.50,45.06 251.60,43.17 251.70,40.27 251.80,39.88 251.90,44.59 252.00,42.51 252.10,43.54 252.20,46.04 252.30,41.73 252.40,41.96 252.50,41.82 252.60,42.91 252.70,43.79 252.80,42.47 252.90,43.32 253.00,45.59 253.10,40.54 253.20,43.43 253.30,42.42 253.40,40.35 253.50,44.26 253.60,43.71 253.70,41.75 253.80,43.41 253.90,44.89 254.00,42.76 254.10,41.41 254.20,44.08 254.30,45.12 254.40,45.00 254.50,43.74 254.60,43.37 254.70,44.02 254.80,39.76 254.90,44.44 255.00,42.27 255.10,44.78 255.20,41.78 255.30,43.74 255.40,43.02 255.50,42.66 255.60,40.95 255.70,44.17 255.80,42.19 255.90,42.14 256.00,44.08 256.10,41.99 256.20,42.44 256.30,43.77 256.40,42.42 256.50,43.03 256.60,40.72 256.70,43.30 256.80,40.79 256.90,41.25 257.00,44.22 257.10,44.72 257.20,42.34 257.30,41.97 257.40,41.40 257.50,42.36 257.60,42.47 257.70,41.64 257.80,44.93 257.90,41.72 258.00,42.63 258.10,42.16 258.20,42.10 258.30,42.47 258.40,42.62 258.50,44.97 258.60,39.51 258.70,43.67 258.80,44.95 258.90,43.78 259.00,41.47 259.10,42.88 259.20,41.36 259.30,42.49 259.40,40.61 259.50,43.53 259.60,44.05 259.70,43.95 259.80,43.44 259.90,44.08 260.00,42.54 260.10,44.50 260.20,43.42 260.30,41.16 260.40,43.01 260.50,46.20 260.60,43.31 260.70,43.42 260.80,43.85 260.90,44.10 261.00,43.93 261.10,43.48 261.20,43.70 261.30,42.66 261.40,43.28 261.50,42.70 261.60,40.41 261.70,42.73 261.80,43.52 261.90,40.90 262.00,43.55 262.10,45.33 262.20,42.20 262.30,42.33 262.40,41.18 262.50,42.11 262.60,41.78 262.70,43.56 262.80,41.87 262.90,42.14 263.00,43.88 263.10,44.17 263.20,41.06 263.30,41.24 263.40,41.25 263.50,44.94 263.60,42.88 263.70,41.08 263.80,43.31 263.90,42.07 264.00,41.58 264.10,39.64 264.20,41.60 264.30,42.24 264.40,39.97 264.50,43.02 264.60,41.77 264.70,42.46 264.80,44.73 264.90,44.48 265.00,43.42 265.10,46.18 265.20,45.40 265.30,43.10 265.40,41.11 265.50,46.01 265.60,44.71 265.70,41.40 265.80,40.98 265.90,42.23 266.00,44.05 266.10,45.61 266.20,43.83 266.30,44.17 266.40,41.86 266.50,44.94 266.60,40.97 266.70,44.36 266.80,42.42 266.90,41.84 267.00,41.29 267.10,45.24 267.20,42.64 267.30,43.21 267.40,42.77 267.50,44.57 267.60,43.61 267.70,42.72 267.80,45.78 267.90,42.67 268.00,41.63 268.10,41.65 268.20,42.83 268.30,43.14 268.40,41.57 268.50,44.05 268.60,41.46 268.70,42.08 268.80,44.57 268.90,39.79 269.00,42.37 269.10,41.42 269.20,42.99 269.30,43.30 269.40,43.39 269.50,39.94 269.60,42.74 269.70,44.22 269.80,42.97 269.90,43.64 270.00,44.20 270.10,43.02 270.20,44.30 270.30,42.95 270.40,43.59 270.50,42.63 270.60,41.98 270.70,44.00 270.80,42.06 270.90,42.43 271.00,44.21 271.10,46.17 271.20,42.32 271.30,40.38 271.40,40.59 271.50,43.86 271.60,43.62 271.70,41.35 271.80,43.04 271.90,41.47 272.00,42.04 272.10,42.17 272.20,42.55 272.30,42.46 272.40,43.77 272.50,42.22 272.60,40.74 272.70,43.76 272.80,43.04 272.90,42.55 273.00,42.77 273.10,43.46 273.20,42.67 273.30,44.87 273.40,42.87 273.50,44.67 273.60,41.07 273.70,43.20 273.80,43.14 273.90,42.56 274.00,43.90 274.10,43.10 274.20,39.56 274.30,43.05 274.40,44.66 274.50,43.72 274.60,44.43 274.70,47.06 274.80,48.64 274.90,47.29 275.00,48.72 275.10,45.71 275.20,46.48 275.30,48.23 275.40,49.43 275.50,45.66 275.60,46.34 275.70,43.24 275.80,45.10 275.90,44.19 276.00,44.16 276.10,44.17 276.20,41.94 276.30,47.36 276.40,44.17 276.50,42.73 276.60,42.82 276.70,42.82 276.80,43.19 276.90,44.79 277.00,40.63 277.10,42.72 277.20,43.31 277.30,39.70 277.40,42.12 277.50,41.96 277.60,42.52 277.70,43.59 277.80,42.84 277.90,42.81 278.00,43.54 278.10,44.50 278.20,41.40 278.30,39.51 278.40,43.05 278.50,44.19 278.60,43.62 278.70,44.61 278.80,42.57 278.90,41.68 279.00,43.23 279.10,42.67 279.20,41.74 279.30,42.76 279.40,41.24 279.50,42.29 279.60,41.48 279.70,45.14 279.80,42.82 279.90,45.00 280.00,43.46 280.10,40.98 280.20,42.36 280.30,43.20 280.40,43.55 280.50,42.50 280.60,42.37 280.70,43.44 280.80,41.17 280.90,42.85 281.00,42.32 281.10,41.74 281.20,43.29 281.30,40.27 281.40,44.24 281.50,40.57 281.60,40.93 281.70,43.01 281.80,42.07 281.90,44.24 282.00,45.87 282.10,42.46 282.20,40.85 282.30,42.31 282.40,42.22 282.50,44.65 282.60,39.94 282.70,44.54 282.80,42.35 282.90,41.06 283.00,45.32 283.10,40.58 283.20,44.20 283.30,40.28 283.40,42.36 283.50,41.63 283.60,44.01 283.70,43.50 283.80,42.11 283.90,44.42 284.00,42.99 284.10,44.13 284.20,43.72 284.30,42.18 284.40,40.33 284.50,43.62 284.60,43.31 284.70,42.53 284.80,40.89 284.90,42.85 285.00,46.11 285.10,41.19 285.20,42.97 285.30,42.36 285.40,41.80 285.50,44.84 285.60,43.78 285.70,43.58 285.80,44.49 285.90,44.31 286.00,41.89 286.10,39.94 286.20,42.12 286.30,46.04 286.40,41.79 286.50,42.58 286.60,42.24 286.70,42.22 286.80,43.38 286.90,43.49 287.00,44.67 287.10,39.41 287.20,41.01 287.30,43.75 287.40,41.73 287.50,42.78 287.60,46.28 287.70,43.83 287.80,42.69 287.90,44.01 288.00,41.71 288.10,41.61 288.20,43.80 288.30,44.05 288.40,43.13 288.50,42.76 288.60,41.70 288.70,42.58 288.80,45.51 288.90,40.82 289.00,44.23 289.10,44.46 289.20,40.34 289.30,43.51 289.40,45.47 289.50,46.21 289.60,44.66 289.70,46.01 289.80,45.35 289.90,43.63 290.00,41.52 290.10,43.38 290.20,43.90 290.30,41.62 290.40,42.03 290.50,44.13 290.60,42.72 290.70,42.78 290.80,41.08 290.90,44.94 291.00,43.46 291.10,41.86 291.20,46.11 291.30,44.70 291.40,43.07 291.50,41.55 291.60,43.89 291.70,41.45 291.80,43.09 291.90,42.03 292.00,41.90 292.10,43.22 292.20,44.60 292.30,43.71 292.40,41.68 292.50,45.21 292.60,42.16 292.70,42.06 292.80,40.51 292.90,44.36 293.00,42.94 293.10,42.38 293.20,41.59 293.30,43.98 293.40,42.33 293.50,42.50 293.60,41.54 293.70,40.62 293.80,42.42 293.90,44.91 294.00,42.67 294.10,43.02 294.20,44.85 294.30,41.07 294.40,44.36 294.50,41.39 294.60,41.80 294.70,43.67 294.80,43.17 294.90,44.30 295.00,43.82 295.10,42.68 295.20,42.45 295.30,43.13 295.40,43.14 295.50,41.45 295.60,42.19 295.70,42.14 295.80,42.72 295.90,46.16 296.00,43.78 296.10,43.26 296.20,40.48 296.30,41.81" fill="none" stroke="#E9B47E" stroke-width="0.6" stroke-linejoin="round" />
<text x="18.60" y="32.70" font-size="12.7" font-weight="bold" text-anchor="start" fill="#E7B57E" letter-spacing="0.3">Sham</text>
<polyline points="320.50,42.80 320.60,38.97 320.70,43.57 320.80,42.82 320.90,40.19 321.00,39.10 321.10,43.14 321.20,45.97 321.30,43.42 321.40,44.90 321.50,45.32 321.60,46.53 321.70,43.18 321.80,43.22 321.90,44.50 322.00,48.63 322.10,45.88 322.20,42.44 322.30,46.38 322.40,41.86 322.50,42.52 322.60,45.22 322.70,44.90 322.80,43.90 322.90,42.16 323.00,41.17 323.10,41.09 323.20,43.32 323.30,48.60 323.40,45.24 323.50,43.33 323.60,42.74 323.70,42.82 323.80,42.90 323.90,44.48 324.00,42.62 324.10,45.06 324.20,42.32 324.30,43.25 324.40,42.01 324.50,43.53 324.60,42.69 324.70,41.42 324.80,45.83 324.90,45.72 325.00,41.81 325.10,58.19 325.20,73.25 325.30,88.47 325.40,82.40 325.50,76.04 325.60,74.12 325.70,72.47 325.80,66.07 325.90,66.14 326.00,62.95 326.10,63.70 326.20,62.03 326.30,57.87 326.40,55.02 326.50,55.76 326.60,51.87 326.70,56.18 326.80,46.41 326.90,50.22 327.00,47.15 327.10,50.40 327.20,50.25 327.30,46.07 327.40,45.50 327.50,46.39 327.60,50.56 327.70,47.10 327.80,42.04 327.90,45.77 328.00,43.22 328.10,41.22 328.20,45.31 328.30,47.89 328.40,43.48 328.50,42.73 328.60,43.78 328.70,45.51 328.80,41.05 328.90,41.65 329.00,48.63 329.10,61.73 329.20,62.91 329.30,67.03 329.40,61.39 329.50,62.92 329.60,53.71 329.70,56.06 329.80,51.66 329.90,51.09 330.00,51.26 330.10,52.42 330.20,47.79 330.30,51.49 330.40,51.54 330.50,47.49 330.60,45.14 330.70,47.72 330.80,47.86 330.90,47.29 331.00,47.61 331.10,43.59 331.20,47.77 331.30,45.38 331.40,45.02 331.50,43.87 331.60,45.28 331.70,47.57 331.80,45.00 331.90,42.54 332.00,46.64 332.10,40.32 332.20,45.96 332.30,45.75 332.40,46.15 332.50,46.80 332.60,43.01 332.70,44.72 332.80,43.58 332.90,45.59 333.00,46.04 333.10,41.99 333.20,44.12 333.30,39.19 333.40,47.49 333.50,43.06 333.60,48.93 333.70,40.62 333.80,48.89 333.90,42.19 334.00,43.52 334.10,42.26 334.20,47.22 334.30,41.49 334.40,42.96 334.50,43.40 334.60,45.12 334.70,42.51 334.80,46.38 334.90,40.34 335.00,41.01 335.10,42.44 335.20,46.01 335.30,40.76 335.40,42.79 335.50,42.76 335.60,42.93 335.70,47.42 335.80,40.85 335.90,43.64 336.00,40.82 336.10,41.46 336.20,41.33 336.30,39.77 336.40,46.06 336.50,43.62 336.60,42.50 336.70,41.54 336.80,44.06 336.90,44.97 337.00,45.38 337.10,42.69 337.20,44.50 337.30,44.88 337.40,44.09 337.50,43.16 337.60,43.00 337.70,47.07 337.80,43.41 337.90,44.12 338.00,46.78 338.10,44.82 338.20,45.02 338.30,41.73 338.40,42.00 338.50,44.59 338.60,43.82 338.70,46.29 338.80,44.57 338.90,45.16 339.00,45.35 339.10,38.11 339.20,43.87 339.30,43.04 339.40,42.24 339.50,45.96 339.60,41.93 339.70,41.80 339.80,42.93 339.90,44.62 340.00,44.74 340.10,45.07 340.20,46.80 340.30,42.98 340.40,42.57 340.50,43.79 340.60,48.14 340.70,43.59 340.80,42.91 340.90,46.72 341.00,48.03 341.10,48.00 341.20,47.52 341.30,45.50 341.40,45.91 341.50,41.82 341.60,46.13 341.70,46.21 341.80,46.67 341.90,39.31 342.00,45.25 342.10,40.05 342.20,41.74 342.30,44.89 342.40,43.65 342.50,39.51 342.60,43.78 342.70,45.78 342.80,41.27 342.90,44.38 343.00,44.05 343.10,39.69 343.20,46.34 343.30,42.96 343.40,44.52 343.50,42.57 343.60,43.26 343.70,46.42 343.80,41.86 343.90,44.28 344.00,42.82 344.10,41.49 344.20,39.85 344.30,44.77 344.40,43.34 344.50,45.23 344.60,42.69 344.70,42.28 344.80,46.73 344.90,43.24 345.00,46.51 345.10,37.60 345.20,45.69 345.30,43.44 345.40,40.63 345.50,45.74 345.60,42.77 345.70,47.35 345.80,45.04 345.90,44.57 346.00,43.47 346.10,44.54 346.20,43.54 346.30,43.47 346.40,43.12 346.50,46.22 346.60,54.09 346.70,59.41 346.80,59.07 346.90,52.81 347.00,52.42 347.10,51.14 347.20,51.92 347.30,48.92 347.40,48.04 347.50,45.73 347.60,50.41 347.70,47.99 347.80,48.71 347.90,46.84 348.00,47.91 348.10,48.45 348.20,47.21 348.30,48.92 348.40,46.61 348.50,44.47 348.60,46.85 348.70,42.96 348.80,47.81 348.90,41.94 349.00,40.79 349.10,45.22 349.20,40.70 349.30,43.13 349.40,41.88 349.50,44.09 349.60,44.02 349.70,42.46 349.80,41.51 349.90,42.66 350.00,42.88 350.10,40.15 350.20,46.56 350.30,43.26 350.40,45.34 350.50,45.92 350.60,43.12 350.70,45.22 350.80,44.43 350.90,37.71 351.00,44.65 351.10,40.70 351.20,47.44 351.30,39.09 351.40,44.21 351.50,45.83 351.60,42.15 351.70,42.10 351.80,43.17 351.90,40.41 352.00,41.56 352.10,43.16 352.20,44.54 352.30,40.35 352.40,45.71 352.50,42.76 352.60,48.22 352.70,41.04 352.80,41.14 352.90,42.11 353.00,42.75 353.10,41.68 353.20,37.80 353.30,41.10 353.40,45.82 353.50,43.41 353.60,40.54 353.70,41.41 353.80,41.89 353.90,44.60 354.00,42.96 354.10,41.95 354.20,40.45 354.30,45.84 354.40,41.09 354.50,43.38 354.60,40.65 354.70,40.89 354.80,42.45 354.90,40.80 355.00,45.08 355.10,40.87 355.20,47.65 355.30,46.17 355.40,44.41 355.50,45.58 355.60,40.70 355.70,41.63 355.80,41.83 355.90,43.30 356.00,48.38 356.10,45.16 356.20,42.88 356.30,46.93 356.40,39.88 356.50,45.58 356.60,45.08 356.70,39.51 356.80,46.27 356.90,42.48 357.00,46.06 357.10,40.20 357.20,39.91 357.30,38.80 357.40,41.06 357.50,40.73 357.60,44.04 357.70,42.27 357.80,44.65 357.90,43.15 358.00,43.42 358.10,41.73 358.20,41.98 358.30,40.74 358.40,40.10 358.50,38.51 358.60,43.32 358.70,44.84 358.80,40.25 358.90,41.45 359.00,38.73 359.10,43.32 359.20,44.08 359.30,41.97 359.40,42.09 359.50,44.51 359.60,39.06 359.70,46.00 359.80,42.08 359.90,43.57 360.00,43.38 360.10,39.50 360.20,43.78 360.30,40.48 360.40,44.48 360.50,40.97 360.60,41.54 360.70,48.20 360.80,41.48 360.90,42.45 361.00,40.86 361.10,40.47 361.20,45.78 361.30,42.10 361.40,45.42 361.50,41.12 361.60,41.94 361.70,42.12 361.80,42.76 361.90,42.37 362.00,42.02 362.10,37.26 362.20,43.70 362.30,43.67 362.40,42.33 362.50,46.69 362.60,42.88 362.70,42.69 362.80,45.24 362.90,44.22 363.00,43.27 363.10,41.78 363.20,42.89 363.30,41.71 363.40,40.19 363.50,43.15 363.60,40.30 363.70,40.76 363.80,40.13 363.90,42.96 364.00,40.35 364.10,44.67 364.20,41.65 364.30,43.82 364.40,42.02 364.50,48.33 364.60,41.52 364.70,42.46 364.80,45.34 364.90,43.79 365.00,43.77 365.10,39.14 365.20,46.12 365.30,47.04 365.40,43.30 365.50,43.92 365.60,44.13 365.70,44.34 365.80,43.18 365.90,42.92 366.00,40.67 366.10,37.36 366.20,42.16 366.30,45.37 366.40,44.95 366.50,39.81 366.60,43.29 366.70,41.20 366.80,42.09 366.90,44.62 367.00,44.84 367.10,43.15 367.20,40.46 367.30,43.05 367.40,42.09 367.50,41.21 367.60,44.15 367.70,39.54 367.80,43.81 367.90,39.19 368.00,42.12 368.10,44.80 368.20,42.67 368.30,45.08 368.40,44.06 368.50,38.89 368.60,46.23 368.70,43.48 368.80,41.76 368.90,41.42 369.00,42.22 369.10,44.60 369.20,43.88 369.30,42.67 369.40,44.69 369.50,42.55 369.60,47.20 369.70,41.68 369.80,41.60 369.90,38.34 370.00,44.70 370.10,46.40 370.20,44.04 370.30,46.91 370.40,43.93 370.50,45.79 370.60,49.87 370.70,53.05 370.80,59.74 370.90,60.46 371.00,58.59 371.10,58.74 371.20,56.04 371.30,53.59 371.40,51.76 371.50,54.43 371.60,53.34 371.70,53.72 371.80,49.15 371.90,47.19 372.00,48.17 372.10,48.80 372.20,46.30 372.30,48.51 372.40,47.17 372.50,46.26 372.60,46.51 372.70,42.30 372.80,45.92 372.90,44.39 373.00,47.16 373.10,41.18 373.20,43.04 373.30,45.07 373.40,42.28 373.50,40.77 373.60,47.44 373.70,39.94 373.80,39.03 373.90,42.88 374.00,44.30 374.10,42.72 374.20,42.99 374.30,40.88 374.40,40.44 374.50,42.69 374.60,44.02 374.70,39.17 374.80,45.51 374.90,45.33 375.00,47.99 375.10,41.94 375.20,42.95 375.30,45.88 375.40,43.42 375.50,37.53 375.60,42.51 375.70,46.03 375.80,45.21 375.90,48.34 376.00,46.24 376.10,42.42 376.20,45.75 376.30,43.55 376.40,45.56 376.50,39.44 376.60,39.01 376.70,41.64 376.80,42.60 376.90,40.44 377.00,43.44 377.10,41.04 377.20,53.27 377.30,59.77 377.40,74.64 377.50,71.67 377.60,71.12 377.70,66.31 377.80,62.69 377.90,57.56 378.00,59.80 378.10,56.69 378.20,54.52 378.30,53.71 378.40,53.60 378.50,52.08 378.60,48.87 378.70,45.43 378.80,49.70 378.90,46.29 379.00,52.08 379.10,42.04 379.20,50.13 379.30,46.66 379.40,42.34 379.50,44.02 379.60,49.60 379.70,46.95 379.80,41.94 379.90,41.05 380.00,44.37 380.10,45.78 380.20,46.38 380.30,44.60 380.40,39.49 380.50,42.57 380.60,43.74 380.70,44.56 380.80,42.13 380.90,40.95 381.00,45.52 381.10,46.61 381.20,43.42 381.30,40.73 381.40,43.06 381.50,40.95 381.60,45.32 381.70,42.74 381.80,42.26 381.90,43.49 382.00,43.58 382.10,44.96 382.20,44.51 382.30,40.19 382.40,43.30 382.50,43.26 382.60,39.73 382.70,41.98 382.80,38.55 382.90,48.07 383.00,38.23 383.10,42.22 383.20,43.66 383.30,42.76 383.40,42.90 383.50,42.39 383.60,40.39 383.70,45.47 383.80,40.50 383.90,40.41 384.00,43.32 384.10,42.99 384.20,39.12 384.30,43.02 384.40,38.05 384.50,39.80 384.60,44.43 384.70,42.21 384.80,40.31 384.90,42.71 385.00,46.23 385.10,38.41 385.20,41.78 385.30,40.94 385.40,41.28 385.50,43.91 385.60,42.65 385.70,45.46 385.80,42.71 385.90,40.23 386.00,47.24 386.10,43.36 386.20,42.60 386.30,38.49 386.40,43.17 386.50,40.41 386.60,40.81 386.70,38.61 386.80,44.13 386.90,42.91 387.00,41.75 387.10,40.95 387.20,39.82 387.30,40.82 387.40,43.66 387.50,41.31 387.60,45.76 387.70,45.40 387.80,44.21 387.90,45.26 388.00,43.29 388.10,43.67 388.20,44.09 388.30,41.75 388.40,40.99 388.50,40.75 388.60,47.49 388.70,39.28 388.80,46.94 388.90,43.25 389.00,45.72 389.10,43.65 389.20,40.78 389.30,42.88 389.40,41.73 389.50,41.90 389.60,46.54 389.70,37.83 389.80,42.09 389.90,40.52 390.00,39.62 390.10,43.93 390.20,44.12 390.30,40.21 390.40,44.63 390.50,38.73 390.60,43.46 390.70,42.34 390.80,37.14 390.90,40.77 391.00,40.76 391.10,40.75 391.20,42.42 391.30,37.57 391.40,41.82 391.50,42.94 391.60,40.94 391.70,41.31 391.80,41.35 391.90,43.28 392.00,36.79 392.10,47.04 392.20,36.62 392.30,41.78 392.40,39.61 392.50,37.56 392.60,44.90 392.70,40.26 392.80,40.39 392.90,41.93 393.00,42.71 393.10,42.23 393.20,44.83 393.30,45.38 393.40,39.78 393.50,41.05 393.60,41.26 393.70,40.26 393.80,42.11 393.90,43.17 394.00,47.59 394.10,41.49 394.20,42.18 394.30,43.97 394.40,41.77 394.50,47.43 394.60,46.75 394.70,44.05 394.80,38.52 394.90,41.83 395.00,42.75 395.10,41.60 395.20,41.93 395.30,44.15 395.40,38.98 395.50,39.90 395.60,41.23 395.70,43.74 395.80,42.40 395.90,43.48 396.00,42.79 396.10,37.63 396.20,42.38 396.30,41.02 396.40,44.08 396.50,44.52 396.60,38.80 396.70,45.02 396.80,42.12 396.90,41.37 397.00,43.44 397.10,40.27 397.20,40.97 397.30,42.90 397.40,41.35 397.50,41.62 397.60,39.31 397.70,41.63 397.80,41.07 397.90,40.95 398.00,41.67 398.10,39.19 398.20,42.42 398.30,39.05 398.40,40.83 398.50,41.49 398.60,44.52 398.70,43.66 398.80,43.86 398.90,38.20 399.00,37.09 399.10,33.76 399.20,34.45 399.30,29.78 399.40,36.79 399.50,32.72 399.60,30.77 399.70,32.85 399.80,46.59 399.90,39.17 400.00,42.13 400.10,41.34 400.20,41.91 400.30,50.23 400.40,48.95 400.50,47.89 400.60,46.48 400.70,45.19 400.80,44.84 400.90,45.52 401.00,42.52 401.10,43.14 401.20,43.02 401.30,45.19 401.40,47.14 401.50,44.49 401.60,41.47 401.70,38.31 401.80,40.71 401.90,44.37 402.00,43.05 402.10,39.25 402.20,42.09 402.30,39.78 402.40,43.13 402.50,44.23 402.60,38.62 402.70,47.37 402.80,39.70 402.90,42.86 403.00,39.66 403.10,44.85 403.20,39.72 403.30,39.04 403.40,42.52 403.50,44.26 403.60,41.77 403.70,44.15 403.80,47.09 403.90,42.78 404.00,40.55 404.10,44.21 404.20,40.51 404.30,42.04 404.40,42.04 404.50,40.41 404.60,49.62 404.70,49.98 404.80,55.91 404.90,54.79 405.00,53.45 405.10,50.75 405.20,48.54 405.30,44.30 405.40,46.82 405.50,52.17 405.60,48.20 405.70,45.89 405.80,51.36 405.90,45.56 406.00,44.83 406.10,48.97 406.20,41.69 406.30,42.34 406.40,43.25 406.50,41.18 406.60,43.15 406.70,41.40 406.80,43.53 406.90,42.11 407.00,43.42 407.10,40.83 407.20,40.84 407.30,40.53 407.40,42.30 407.50,44.18 407.60,43.98 407.70,41.46 407.80,43.69 407.90,43.35 408.00,46.53 408.10,46.27 408.20,44.55 408.30,41.88 408.40,41.37 408.50,41.70 408.60,41.42 408.70,40.76 408.80,41.16 408.90,40.53 409.00,41.76 409.10,44.16 409.20,40.44 409.30,46.32 409.40,40.46 409.50,40.09 409.60,47.46 409.70,44.79 409.80,37.43 409.90,41.35 410.00,45.30 410.10,44.08 410.20,42.52 410.30,42.40 410.40,44.69 410.50,37.18 410.60,44.86 410.70,42.48 410.80,41.76 410.90,43.20 411.00,45.54 411.10,38.35 411.20,42.54 411.30,42.17 411.40,43.01 411.50,43.98 411.60,41.29 411.70,42.45 411.80,39.26 411.90,42.57 412.00,41.62 412.10,40.51 412.20,40.22 412.30,39.73 412.40,40.16 412.50,36.38 412.60,42.81 412.70,44.81 412.80,40.56 412.90,41.59 413.00,40.47 413.10,45.38 413.20,42.35 413.30,42.35 413.40,41.96 413.50,38.69 413.60,43.26 413.70,43.26 413.80,47.40 413.90,40.74 414.00,40.46 414.10,41.65 414.20,40.78 414.30,39.20 414.40,39.42 414.50,38.86 414.60,47.45 414.70,38.84 414.80,40.65 414.90,44.24 415.00,43.82 415.10,38.68 415.20,38.89 415.30,39.71 415.40,43.21 415.50,40.96 415.60,41.52 415.70,42.04 415.80,39.18 415.90,43.00 416.00,42.91 416.10,45.01 416.20,45.18 416.30,41.22 416.40,42.97 416.50,40.40 416.60,39.03 416.70,38.64 416.80,39.90 416.90,42.63 417.00,45.82 417.10,41.60 417.20,43.72 417.30,44.79 417.40,40.47 417.50,40.53 417.60,40.45 417.70,41.68 417.80,42.55 417.90,40.81 418.00,39.02 418.10,41.16 418.20,44.07 418.30,37.88 418.40,44.32 418.50,45.13 418.60,38.45 418.70,36.89 418.80,41.03 418.90,37.75 419.00,36.68 419.10,44.60 419.20,44.55 419.30,43.03 419.40,43.36 419.50,42.24 419.60,40.03 419.70,43.63 419.80,42.01 419.90,41.45 420.00,40.60 420.10,40.93 420.20,41.40 420.30,41.24 420.40,41.60 420.50,42.44 420.60,42.35 420.70,41.39 420.80,42.33 420.90,41.07 421.00,45.09 421.10,39.43 421.20,40.84 421.30,43.31 421.40,43.07 421.50,47.32 421.60,42.71 421.70,41.83 421.80,40.34 421.90,41.85 422.00,39.96 422.10,47.82 422.20,47.42 422.30,52.90 422.40,50.31 422.50,47.70 422.60,50.64 422.70,46.95 422.80,46.74 422.90,42.68 423.00,48.69 423.10,46.00 423.20,47.83 423.30,47.52 423.40,44.82 423.50,44.36 423.60,43.21 423.70,44.34 423.80,46.18 423.90,42.06 424.00,43.49 424.10,45.45 424.20,45.04 424.30,43.17 424.40,47.13 424.50,48.11 424.60,41.23 424.70,38.28 424.80,43.76 424.90,42.65 425.00,46.66 425.10,42.14 425.20,40.35 425.30,40.72 425.40,43.71 425.50,37.78 425.60,43.54 425.70,41.34 425.80,39.70 425.90,39.98 426.00,43.28 426.10,41.00 426.20,41.47 426.30,48.10 426.40,39.41 426.50,43.53 426.60,42.89 426.70,41.02 426.80,41.99 426.90,43.49 427.00,43.53 427.10,44.17 427.20,45.31 427.30,39.80 427.40,38.77 427.50,42.34 427.60,44.99 427.70,44.68 427.80,41.32 427.90,43.99 428.00,43.41 428.10,42.84 428.20,44.37 428.30,38.05 428.40,45.16 428.50,41.09 428.60,44.86 428.70,45.66 428.80,43.94 428.90,40.79 429.00,41.36 429.10,43.94 429.20,45.23 429.30,38.54 429.40,44.18 429.50,42.86 429.60,45.87 429.70,40.30 429.80,43.05 429.90,40.67 430.00,44.72 430.10,42.76 430.20,44.46 430.30,41.94 430.40,41.07 430.50,42.79 430.60,44.16 430.70,45.04 430.80,45.62 430.90,43.72 431.00,37.12 431.10,37.14 431.20,47.51 431.30,42.05 431.40,41.64 431.50,43.27 431.60,43.56 431.70,42.31 431.80,42.14 431.90,43.60 432.00,39.29 432.10,45.29 432.20,41.62 432.30,46.25 432.40,41.77 432.50,45.55 432.60,44.94 432.70,43.22 432.80,46.70 432.90,40.43 433.00,43.97 433.10,41.64 433.20,45.18 433.30,45.17 433.40,45.51 433.50,47.11 433.60,39.37 433.70,41.01 433.80,44.65 433.90,39.65 434.00,39.38 434.10,41.80 434.20,43.89 434.30,43.72 434.40,47.78 434.50,45.03 434.60,42.81 434.70,42.37 434.80,45.82 434.90,42.73 435.00,46.55 435.10,42.00 435.20,41.13 435.30,43.95 435.40,41.32 435.50,46.34 435.60,46.41 435.70,43.37 435.80,47.85 435.90,42.16 436.00,45.58 436.10,42.09 436.20,43.68 436.30,41.39 436.40,47.89 436.50,42.45 436.60,46.88 436.70,39.94 436.80,44.73 436.90,43.16 437.00,40.98 437.10,43.68 437.20,42.89 437.30,38.70 437.40,44.70 437.50,45.04 437.60,43.22 437.70,41.30 437.80,40.77 437.90,48.44 438.00,44.42 438.10,44.11 438.20,46.79 438.30,42.98 438.40,41.71 438.50,45.43 438.60,45.91 438.70,40.16 438.80,45.43 438.90,44.16 439.00,42.94 439.10,44.76 439.20,42.97 439.30,45.49 439.40,47.60 439.50,40.34 439.60,43.23 439.70,43.74 439.80,47.53 439.90,47.04 440.00,42.97 440.10,41.54 440.20,42.78 440.30,42.57 440.40,43.06 440.50,41.33 440.60,41.30 440.70,41.22 440.80,41.50 440.90,44.04 441.00,39.69 441.10,41.48 441.20,43.36 441.30,43.81 441.40,47.53 441.50,44.74 441.60,43.56 441.70,41.45 441.80,48.45 441.90,49.47 442.00,47.41 442.10,52.32 442.20,49.77 442.30,54.21 442.40,51.02 442.50,46.19 442.60,43.14 442.70,42.24 442.80,50.48 442.90,47.66 443.00,42.96 443.10,45.11 443.20,49.22 443.30,49.90 443.40,46.82 443.50,43.95 443.60,48.29 443.70,43.14 443.80,46.60 443.90,42.74 444.00,44.83 444.10,44.40 444.20,44.36 444.30,45.78 444.40,42.30 444.50,42.96 444.60,43.65 444.70,42.50 444.80,47.04 444.90,38.86 445.00,46.55 445.10,43.48 445.20,47.95 445.30,46.30 445.40,42.07 445.50,42.07 445.60,45.60 445.70,42.26 445.80,40.77 445.90,44.49 446.00,46.47 446.10,41.20 446.20,44.87 446.30,45.81 446.40,42.46 446.50,42.25 446.60,40.52 446.70,42.55 446.80,46.53 446.90,41.21 447.00,45.75 447.10,42.67 447.20,43.05 447.30,43.42 447.40,38.87 447.50,44.57 447.60,42.73 447.70,43.40 447.80,41.55 447.90,44.28 448.00,42.07 448.10,42.75 448.20,42.32 448.30,40.33 448.40,42.05 448.50,44.33 448.60,41.37 448.70,46.18 448.80,43.49 448.90,44.84 449.00,39.76 449.10,42.49 449.20,39.70 449.30,40.20 449.40,43.44 449.50,39.25 449.60,43.64 449.70,40.82 449.80,41.69 449.90,43.56 450.00,42.69 450.10,45.14 450.20,44.15 450.30,43.42 450.40,39.98 450.50,40.62 450.60,45.15 450.70,43.85 450.80,45.06 450.90,40.43 451.00,39.45 451.10,38.69 451.20,42.90 451.30,44.46 451.40,46.49 451.50,42.99 451.60,46.53 451.70,40.83 451.80,41.70 451.90,37.57 452.00,39.45 452.10,43.43 452.20,43.40 452.30,44.91 452.40,39.04 452.50,42.81 452.60,44.72 452.70,41.55 452.80,45.03 452.90,43.91 453.00,43.77 453.10,41.06 453.20,42.54 453.30,42.13 453.40,42.60 453.50,41.35 453.60,42.30 453.70,39.48 453.80,45.44 453.90,44.78 454.00,46.14 454.10,43.25 454.20,41.02 454.30,42.89 454.40,42.17 454.50,40.62 454.60,42.80 454.70,38.55 454.80,40.27 454.90,42.24 455.00,43.43 455.10,43.83 455.20,43.32 455.30,43.66 455.40,43.78 455.50,42.51 455.60,44.57 455.70,39.10 455.80,43.86 455.90,45.65 456.00,45.95 456.10,41.75 456.20,42.75 456.30,43.28 456.40,41.10 456.50,42.83 456.60,40.28 456.70,41.75 456.80,43.54 456.90,42.32 457.00,40.99 457.10,41.27 457.20,42.75 457.30,42.73 457.40,43.78 457.50,43.10 457.60,44.13 457.70,43.45 457.80,45.26 457.90,45.38 458.00,41.34 458.10,46.25 458.20,44.28 458.30,44.68 458.40,40.20 458.50,41.81 458.60,42.61 458.70,46.09 458.80,48.64 458.90,44.94 459.00,40.46 459.10,42.41 459.20,44.87 459.30,42.31 459.40,40.62 459.50,44.65 459.60,45.68 459.70,44.87 459.80,40.75 459.90,39.80 460.00,46.80 460.10,42.46 460.20,42.84 460.30,45.01 460.40,41.68 460.50,46.07 460.60,41.28 460.70,39.53 460.80,40.93 460.90,43.23 461.00,38.41 461.10,41.13 461.20,43.05 461.30,43.56 461.40,40.76 461.50,43.78 461.60,43.94 461.70,44.39 461.80,43.34 461.90,42.75 462.00,41.49 462.10,47.10 462.20,46.94 462.30,46.12 462.40,43.91 462.50,39.57 462.60,44.30 462.70,44.02 462.80,45.59 462.90,45.62 463.00,41.59 463.10,42.87 463.20,39.89 463.30,39.93 463.40,45.04 463.50,42.95 463.60,44.45 463.70,42.82 463.80,42.20 463.90,42.88 464.00,41.84 464.10,42.71 464.20,43.93 464.30,43.04 464.40,42.12 464.50,42.76 464.60,43.98 464.70,39.72 464.80,44.28 464.90,44.51 465.00,46.62 465.10,40.92 465.20,42.93 465.30,44.21 465.40,40.76 465.50,42.15 465.60,43.35 465.70,41.83 465.80,45.91 465.90,45.76 466.00,38.28 466.10,42.44 466.20,45.32 466.30,39.36 466.40,43.30 466.50,39.45 466.60,39.77 466.70,45.45 466.80,41.24 466.90,42.22 467.00,43.82 467.10,41.72 467.20,41.27 467.30,45.05 467.40,44.32 467.50,42.63 467.60,41.42 467.70,39.97 467.80,41.62 467.90,43.32 468.00,47.47 468.10,42.97 468.20,42.97 468.30,41.71 468.40,43.82 468.50,44.41 468.60,46.24 468.70,43.78 468.80,44.92 468.90,48.89 469.00,41.83 469.10,42.00 469.20,42.67 469.30,41.19 469.40,40.74 469.50,45.29 469.60,45.97 469.70,43.32 469.80,42.79 469.90,40.96 470.00,45.13 470.10,43.63 470.20,44.49 470.30,42.03 470.40,42.82 470.50,40.56 470.60,45.89 470.70,44.38 470.80,41.95 470.90,45.07 471.00,37.94 471.10,38.93 471.20,44.32 471.30,40.91 471.40,44.20 471.50,46.14 471.60,45.16 471.70,42.39 471.80,45.05 471.90,40.78 472.00,45.97 472.10,44.76 472.20,42.27 472.30,43.87 472.40,42.32 472.50,41.53 472.60,48.25 472.70,48.04 472.80,45.67 472.90,41.30 473.00,47.37 473.10,46.71 473.20,45.25 473.30,45.45 473.40,40.79 473.50,40.93 473.60,43.48 473.70,43.55 473.80,42.27 473.90,49.16 474.00,41.25 474.10,42.49 474.20,44.31 474.30,45.14 474.40,40.85 474.50,46.23 474.60,40.97 474.70,43.16 474.80,43.62 474.90,41.53 475.00,45.02 475.10,43.15 475.20,39.64 475.30,41.71 475.40,42.12 475.50,44.33 475.60,45.32 475.70,41.42 475.80,45.85 475.90,46.85 476.00,52.55 476.10,54.66 476.20,53.61 476.30,49.87 476.40,48.62 476.50,52.92 476.60,53.37 476.70,48.17 476.80,51.11 476.90,49.45 477.00,47.26 477.10,44.17 477.20,44.89 477.30,47.28 477.40,42.13 477.50,49.41 477.60,45.84 477.70,46.99 477.80,46.27 477.90,45.72 478.00,43.74 478.10,46.32 478.20,45.13 478.30,50.10 478.40,45.97 478.50,42.01 478.60,45.63 478.70,45.72 478.80,49.79 478.90,49.77 479.00,48.12 479.10,41.92 479.20,43.18 479.30,45.44 479.40,43.82 479.50,46.15 479.60,48.61 479.70,43.12 479.80,47.47 479.90,43.46 480.00,48.48 480.10,44.21 480.20,45.16 480.30,45.19 480.40,45.10 480.50,44.51 480.60,45.71 480.70,41.89 480.80,42.12 480.90,48.25 481.00,42.01 481.10,42.57 481.20,46.84 481.30,43.10 481.40,49.61 481.50,43.95 481.60,41.06 481.70,45.13 481.80,42.91 481.90,41.44 482.00,44.24 482.10,41.31 482.20,42.00 482.30,43.01 482.40,45.03 482.50,45.87 482.60,41.99 482.70,40.43 482.80,39.01 482.90,44.14 483.00,41.14 483.10,44.68 483.20,44.20 483.30,42.13 483.40,42.68 483.50,41.88 483.60,46.49 483.70,46.91 483.80,48.48 483.90,45.69 484.00,44.02 484.10,46.87 484.20,47.23 484.30,42.67 484.40,41.25 484.50,42.66 484.60,47.05 484.70,41.55 484.80,43.75 484.90,47.40 485.00,44.49 485.10,41.74 485.20,46.60 485.30,46.47 485.40,46.23 485.50,46.23 485.60,43.66 485.70,45.04 485.80,45.12 485.90,47.97 486.00,47.22 486.10,42.23 486.20,43.29 486.30,43.59 486.40,44.19 486.50,43.84 486.60,43.35 486.70,42.59 486.80,45.37 486.90,44.10 487.00,41.20 487.10,44.22 487.20,45.29 487.30,41.57 487.40,45.98 487.50,42.60 487.60,46.13 487.70,44.78 487.80,42.42 487.90,41.56 488.00,42.53 488.10,43.64 488.20,48.04 488.30,44.10 488.40,44.26 488.50,42.85 488.60,42.69 488.70,43.00 488.80,42.34 488.90,45.21 489.00,44.29 489.10,41.44 489.20,43.04 489.30,43.60 489.40,42.52 489.50,40.63 489.60,43.68 489.70,47.18 489.80,40.18 489.90,45.53 490.00,47.06 490.10,43.72 490.20,43.32 490.30,39.60 490.40,45.48 490.50,46.63 490.60,43.95 490.70,45.44 490.80,42.92 490.90,44.46 491.00,43.39 491.10,44.49 491.20,44.49 491.30,41.78 491.40,38.22 491.50,49.08 491.60,43.61 491.70,42.63 491.80,43.60 491.90,40.73 492.00,44.25 492.10,42.01 492.20,39.39 492.30,49.17 492.40,42.28 492.50,46.18 492.60,47.93 492.70,42.78 492.80,45.38 492.90,44.84 493.00,44.74 493.10,48.07 493.20,38.58 493.30,44.67 493.40,43.10 493.50,45.10 493.60,45.11 493.70,46.32 493.80,40.93 493.90,46.67 494.00,47.25 494.10,44.81 494.20,41.42 494.30,46.66 494.40,44.42 494.50,40.63 494.60,45.48 494.70,44.26 494.80,47.65 494.90,43.24 495.00,40.45 495.10,41.08 495.20,40.47 495.30,42.93 495.40,41.41 495.50,45.44 495.60,45.12 495.70,42.20 495.80,43.35 495.90,42.38 496.00,39.82 496.10,46.14 496.20,45.48 496.30,41.76 496.40,45.68 496.50,43.09 496.60,45.97 496.70,46.45 496.80,39.74 496.90,43.34 497.00,43.39 497.10,42.02 497.20,46.36 497.30,41.51 497.40,44.88 497.50,46.08 497.60,43.12 497.70,42.86 497.80,40.76 497.90,38.27 498.00,43.57 498.10,42.92 498.20,44.52 498.30,44.34 498.40,46.34 498.50,46.85 498.60,44.21 498.70,45.79 498.80,40.39 498.90,45.14 499.00,43.00 499.10,46.19 499.20,42.20 499.30,41.97 499.40,44.62 499.50,47.07 499.60,47.20 499.70,43.98 499.80,44.72 499.90,46.01 500.00,40.43 500.10,44.25 500.20,42.97 500.30,46.28 500.40,46.84 500.50,39.62 500.60,46.24 500.70,43.09 500.80,41.62 500.90,44.03 501.00,42.75 501.10,42.73 501.20,44.44 501.30,43.14 501.40,40.44 501.50,43.96 501.60,42.30 501.70,44.36 501.80,44.36 501.90,47.90 502.00,40.02 502.10,44.88 502.20,44.50 502.30,44.02 502.40,45.56 502.50,43.98 502.60,44.88 502.70,45.54 502.80,46.68 502.90,41.31 503.00,44.80 503.10,45.58 503.20,43.62 503.30,42.04 503.40,44.70 503.50,45.57 503.60,46.17 503.70,43.32 503.80,42.03 503.90,44.08 504.00,44.98 504.10,39.00 504.20,50.35 504.30,51.46 504.40,54.87 504.50,56.31 504.60,53.71 504.70,50.98 504.80,53.13 504.90,53.55 505.00,50.52 505.10,49.57 505.20,49.90 505.30,51.01 505.40,50.72 505.50,50.64 505.60,47.42 505.70,48.80 505.80,49.36 505.90,44.53 506.00,48.07 506.10,47.49 506.20,47.47 506.30,47.47 506.40,43.77 506.50,48.66 506.60,47.60 506.70,45.03 506.80,49.80 506.90,45.95 507.00,48.01 507.10,43.59 507.20,47.89 507.30,44.33 507.40,47.61 507.50,42.86 507.60,47.74 507.70,46.74 507.80,44.86 507.90,42.39 508.00,44.39 508.10,44.09 508.20,44.73 508.30,42.25 508.40,45.76 508.50,48.04 508.60,43.37 508.70,42.06 508.80,47.78 508.90,45.23 509.00,45.64 509.10,42.24 509.20,42.91 509.30,45.99 509.40,39.51 509.50,43.65 509.60,42.74 509.70,41.04 509.80,42.10 509.90,47.42 510.00,42.01 510.10,45.56 510.20,44.99 510.30,46.65 510.40,41.44 510.50,43.83 510.60,42.58 510.70,42.02 510.80,42.06 510.90,47.87 511.00,39.53 511.10,44.29 511.20,46.90 511.30,45.83 511.40,45.17 511.50,43.05 511.60,46.81 511.70,46.18 511.80,42.42 511.90,43.55 512.00,45.41 512.10,46.76 512.20,43.36 512.30,44.98 512.40,43.76 512.50,49.42 512.60,46.69 512.70,40.59 512.80,46.18 512.90,46.22 513.00,42.87 513.10,43.28 513.20,42.86 513.30,46.63 513.40,44.56 513.50,46.57 513.60,44.20 513.70,41.18 513.80,41.66 513.90,43.34 514.00,47.16 514.10,46.58 514.20,46.59 514.30,43.11 514.40,43.71 514.50,45.77 514.60,41.25 514.70,45.20 514.80,39.63 514.90,42.96 515.00,49.57 515.10,47.57 515.20,43.34 515.30,44.01 515.40,43.23 515.50,46.88 515.60,41.52 515.70,39.49 515.80,44.51 515.90,43.38 516.00,40.28 516.10,42.68 516.20,41.56 516.30,45.79 516.40,46.27 516.50,43.05 516.60,43.45 516.70,47.81 516.80,44.91 516.90,46.95 517.00,42.61 517.10,43.91 517.20,40.63 517.30,44.40 517.40,46.39 517.50,42.77 517.60,41.31 517.70,40.95 517.80,41.63 517.90,43.71 518.00,46.06 518.10,43.02 518.20,45.28 518.30,46.26 518.40,42.85 518.50,44.57 518.60,43.79 518.70,43.53 518.80,44.41 518.90,45.21 519.00,45.96 519.10,46.38 519.20,42.08 519.30,45.14 519.40,44.22 519.50,40.16 519.60,46.40 519.70,45.20 519.80,40.61 519.90,46.07 520.00,41.59 520.10,39.38 520.20,43.21 520.30,43.90 520.40,44.19 520.50,43.14 520.60,45.83 520.70,47.69 520.80,43.35 520.90,45.40 521.00,44.33 521.10,44.48 521.20,38.60 521.30,45.36 521.40,48.29 521.50,38.86 521.60,44.76 521.70,46.56 521.80,44.71 521.90,42.39 522.00,45.75 522.10,44.13 522.20,46.98 522.30,47.32 522.40,44.34 522.50,42.73 522.60,44.09 522.70,40.65 522.80,42.85 522.90,46.00 523.00,44.68 523.10,42.50 523.20,44.24 523.30,48.39 523.40,42.53 523.50,43.70 523.60,41.30 523.70,45.97 523.80,40.46 523.90,44.90 524.00,48.11 524.10,45.82 524.20,47.07 524.30,49.28 524.40,44.81 524.50,47.65 524.60,45.60 524.70,42.97 524.80,47.54 524.90,44.79 525.00,44.21 525.10,38.78 525.20,41.43 525.30,41.47 525.40,43.50 525.50,45.52 525.60,46.76 525.70,41.45 525.80,44.38 525.90,48.58 526.00,49.69 526.10,46.07 526.20,40.60 526.30,44.27 526.40,44.51 526.50,47.34 526.60,43.60 526.70,38.64 526.80,42.34 526.90,46.94 527.00,42.81 527.10,45.57 527.20,41.45 527.30,47.29 527.40,44.65 527.50,44.60 527.60,44.88 527.70,45.32 527.80,44.92 527.90,42.82 528.00,43.33 528.10,45.88 528.20,45.23 528.30,45.67 528.40,45.75 528.50,45.47 528.60,45.32 528.70,41.09 528.80,46.42 528.90,44.76 529.00,47.71 529.10,48.40 529.20,45.35 529.30,45.11 529.40,44.39 529.50,43.29 529.60,43.57 529.70,46.14 529.80,46.49 529.90,45.11 530.00,48.01 530.10,46.24 530.20,46.68 530.30,44.32 530.40,44.49 530.50,47.15 530.60,45.36 530.70,45.43 530.80,43.63 530.90,46.66 531.00,43.52 531.10,43.62 531.20,46.64 531.30,44.56 531.40,45.47 531.50,48.09 531.60,49.68 531.70,41.65 531.80,44.72 531.90,42.40 532.00,43.96 532.10,43.34 532.20,48.50 532.30,43.90 532.40,40.46 532.50,44.01 532.60,57.99 532.70,83.19 532.80,96.76 532.90,89.94 533.00,91.08 533.10,83.30 533.20,79.71 533.30,73.00 533.40,73.94 533.50,69.77 533.60,65.01 533.70,63.63 533.80,64.96 533.90,59.45 534.00,57.28 534.10,51.65 534.20,55.05 534.30,58.02 534.40,49.75 534.50,52.08 534.60,51.65 534.70,50.72 534.80,48.48 534.90,48.97 535.00,50.73 535.10,47.97 535.20,44.35 535.30,49.51 535.40,46.59 535.50,47.24 535.60,48.45 535.70,44.12 535.80,46.51 535.90,40.25 536.00,47.42 536.10,43.05 536.20,44.30 536.30,45.78 536.40,43.26 536.50,44.88 536.60,46.78 536.70,46.12 536.80,45.99 536.90,43.35 537.00,43.75 537.10,45.85 537.20,44.28 537.30,46.70 537.40,44.34 537.50,44.90 537.60,43.87 537.70,43.20 537.80,44.50 537.90,45.52 538.00,47.76 538.10,41.80 538.20,42.18 538.30,42.91 538.40,42.97 538.50,43.20 538.60,43.14 538.70,41.96 538.80,44.84 538.90,43.25 539.00,44.89 539.10,45.81 539.20,43.75 539.30,44.19 539.40,47.25 539.50,42.48 539.60,43.64 539.70,41.72 539.80,44.08 539.90,46.19 540.00,43.96 540.10,44.88 540.20,45.34 540.30,44.59 540.40,47.17 540.50,40.75 540.60,43.47 540.70,44.08 540.80,43.02 540.90,40.61 541.00,45.23 541.10,43.50 541.20,41.76 541.30,39.86 541.40,44.59 541.50,38.73 541.60,40.47 541.70,46.69 541.80,58.05 541.90,66.66 542.00,81.75 542.10,74.93 542.20,73.00 542.30,68.10 542.40,68.17 542.50,59.16 542.60,61.45 542.70,59.41 542.80,56.34 542.90,57.55 543.00,58.59 543.10,53.66 543.20,52.36 543.30,50.64 543.40,52.35 543.50,49.33 543.60,48.69 543.70,47.02 543.80,47.01 543.90,49.17 544.00,45.02 544.10,46.13 544.20,48.31 544.30,44.12 544.40,45.78 544.50,49.13 544.60,46.72 544.70,48.80 544.80,45.02 544.90,47.96 545.00,45.17 545.10,43.41 545.20,48.10 545.30,43.19 545.40,47.93 545.50,40.80 545.60,42.03 545.70,42.90 545.80,44.56 545.90,43.25 546.00,47.72 546.10,45.16 546.20,47.70 546.30,39.71 546.40,46.79 546.50,43.69 546.60,46.35 546.70,40.94 546.80,41.88 546.90,42.36 547.00,40.73 547.10,44.31 547.20,41.41 547.30,43.84 547.40,43.35 547.50,49.51 547.60,45.22 547.70,42.12 547.80,45.69 547.90,44.43 548.00,47.41 548.10,42.77 548.20,48.76 548.30,40.88 548.40,43.76 548.50,47.30 548.60,43.46 548.70,44.02 548.80,47.48 548.90,48.72 549.00,49.58 549.10,44.41 549.20,45.43 549.30,38.58 549.40,41.93 549.50,43.18 549.60,48.46 549.70,42.25 549.80,44.11 549.90,43.29 550.00,40.98 550.10,46.25 550.20,46.41 550.30,42.41 550.40,41.78 550.50,42.58 550.60,45.71 550.70,42.80 550.80,46.02 550.90,42.45 551.00,41.76 551.10,44.54 551.20,45.05 551.30,43.97 551.40,45.52 551.50,43.59 551.60,43.67 551.70,45.68 551.80,47.37 551.90,42.29 552.00,44.10 552.10,42.72 552.20,45.73 552.30,42.22 552.40,49.22 552.50,45.10 552.60,47.19 552.70,40.47 552.80,49.49 552.90,42.18 553.00,38.49 553.10,46.77 553.20,42.78 553.30,45.08 553.40,59.69 553.50,78.23 553.60,89.30 553.70,82.66 553.80,81.76 553.90,76.94 554.00,72.70 554.10,69.53 554.20,68.41 554.30,63.12 554.40,65.02 554.50,58.51 554.60,57.22 554.70,58.02 554.80,57.93 554.90,55.52 555.00,54.24 555.10,53.99 555.20,50.79 555.30,51.33 555.40,49.54 555.50,48.90 555.60,51.01 555.70,48.66 555.80,48.61 555.90,47.80 556.00,44.36 556.10,46.82 556.20,49.19 556.30,43.80 556.40,45.55 556.50,50.02 556.60,43.14 556.70,41.10 556.80,46.56 556.90,47.28 557.00,44.77 557.10,42.63 557.20,48.51 557.30,45.46 557.40,45.40 557.50,45.87 557.60,45.91 557.70,40.54 557.80,43.53 557.90,43.10 558.00,41.39 558.10,43.40 558.20,48.82 558.30,43.68 558.40,43.00 558.50,42.27 558.60,44.72 558.70,42.61 558.80,42.61 558.90,45.13 559.00,41.62 559.10,40.87 559.20,41.68 559.30,44.50 559.40,42.59 559.50,44.20 559.60,46.85 559.70,41.25 559.80,41.56 559.90,43.26 560.00,46.88 560.10,39.64 560.20,42.53 560.30,43.03 560.40,44.51 560.50,41.39 560.60,43.83 560.70,42.31 560.80,44.52 560.90,45.04 561.00,40.19 561.10,41.87 561.20,43.01 561.30,41.93 561.40,46.35 561.50,42.62 561.60,43.97 561.70,43.41 561.80,41.73 561.90,46.41 562.00,46.92 562.10,43.70 562.20,41.00 562.30,40.47 562.40,42.81 562.50,46.38 562.60,42.14 562.70,43.74 562.80,43.21 562.90,45.04 563.00,38.71 563.10,43.47 563.20,38.24 563.30,47.23 563.40,44.32 563.50,41.53 563.60,41.70 563.70,45.00 563.80,44.63 563.90,39.27 564.00,44.38 564.10,48.06 564.20,44.89 564.30,40.95 564.40,44.10 564.50,44.55 564.60,41.37 564.70,47.37 564.80,44.85 564.90,43.63 565.00,44.41 565.10,44.60 565.20,41.32 565.30,39.65 565.40,42.80 565.50,43.27 565.60,44.40 565.70,43.89 565.80,43.50 565.90,45.67 566.00,42.56 566.10,48.03 566.20,44.42 566.30,44.93 566.40,44.14 566.50,43.61 566.60,42.65 566.70,45.55 566.80,39.73 566.90,41.31 567.00,43.76 567.10,44.67 567.20,45.68 567.30,46.95 567.40,46.82 567.50,46.62 567.60,44.66 567.70,41.98 567.80,42.20 567.90,38.43 568.00,45.04 568.10,42.19 568.20,41.28 568.30,44.17 568.40,45.43 568.50,44.68 568.60,43.20 568.70,44.55 568.80,44.12 568.90,40.76 569.00,43.85 569.10,43.76 569.20,46.40 569.30,39.68 569.40,42.18 569.50,45.80 569.60,45.01 569.70,48.37 569.80,47.87 569.90,38.75 570.00,40.34 570.10,46.82 570.20,43.09 570.30,41.32 570.40,41.20 570.50,43.17 570.60,43.40 570.70,49.09 570.80,41.62 570.90,41.29 571.00,41.98 571.10,45.03 571.20,45.02 571.30,40.88 571.40,44.32 571.50,42.42 571.60,46.91 571.70,41.45 571.80,45.68 571.90,48.19 572.00,43.24 572.10,42.62 572.20,42.89 572.30,40.19 572.40,41.60 572.50,43.27 572.60,44.04 572.70,43.32 572.80,43.20 572.90,46.29 573.00,40.88 573.10,42.28 573.20,45.61 573.30,42.16 573.40,39.72 573.50,44.01 573.60,48.09 573.70,40.94 573.80,41.35 573.90,44.64 574.00,41.02 574.10,47.36 574.20,39.85 574.30,44.65 574.40,43.02 574.50,40.37 574.60,41.70 574.70,44.16 574.80,41.66 574.90,40.04 575.00,44.56 575.10,43.28 575.20,40.24 575.30,41.36 575.40,41.07 575.50,44.49 575.60,47.03 575.70,46.79 575.80,58.05 575.90,71.62 576.00,85.31 576.10,77.70 576.20,74.55 576.30,73.14 576.40,68.07 576.50,67.98 576.60,66.71 576.70,60.05 576.80,58.74 576.90,58.15 577.00,62.13 577.10,54.33 577.20,58.08 577.30,53.30 577.40,54.24 577.50,54.69 577.60,48.65 577.70,55.02 577.80,48.76 577.90,48.33 578.00,42.44 578.10,44.39 578.20,46.14 578.30,50.40 578.40,48.96 578.50,45.92 578.60,44.32 578.70,50.92 578.80,42.79 578.90,46.85 579.00,48.40 579.10,42.24 579.20,44.44 579.30,45.74 579.40,41.56 579.50,42.07 579.60,44.31 579.70,40.19 579.80,44.36 579.90,42.63 580.00,44.82 580.10,42.32 580.20,41.06 580.30,45.63 580.40,47.67 580.50,44.32 580.60,44.92 580.70,43.23 580.80,45.82 580.90,45.59 581.00,42.91 581.10,41.64 581.20,41.88 581.30,38.70 581.40,45.19 581.50,43.54 581.60,39.43 581.70,43.71 581.80,39.20 581.90,44.64 582.00,39.14 582.10,43.98 582.20,42.51 582.30,41.88 582.40,42.94 582.50,41.39 582.60,42.11 582.70,44.88 582.80,41.74 582.90,45.58 583.00,44.22 583.10,42.61 583.20,47.79 583.30,42.20 583.40,42.66 583.50,44.66 583.60,40.36 583.70,40.19 583.80,44.46 583.90,44.97 584.00,40.62 584.10,41.30 584.20,42.93 584.30,39.26 584.40,38.75 584.50,44.75 584.60,40.08 584.70,45.81 584.80,46.03 584.90,40.72 585.00,41.77 585.10,45.43 585.20,44.69 585.30,46.17 585.40,43.46 585.50,44.03 585.60,41.04 585.70,41.84 585.80,43.73 585.90,42.13 586.00,43.06 586.10,43.66 586.20,44.02 586.30,40.67 586.40,42.88 586.50,40.17 586.60,44.79 586.70,48.37 586.80,39.87 586.90,42.67 587.00,43.85 587.10,42.30 587.20,43.07 587.30,41.50 587.40,41.27 587.50,42.75 587.60,48.51 587.70,43.28 587.80,42.56 587.90,44.79 588.00,46.75 588.10,40.45 588.20,40.92 588.30,38.72 588.40,37.51 588.50,39.19 588.60,42.60 588.70,39.83 588.80,42.30 588.90,44.41 589.00,42.67 589.10,43.79 589.20,38.12 589.30,41.78 589.40,43.88 589.50,39.70 589.60,42.24 589.70,44.23 589.80,44.36 589.90,44.54 590.00,43.18 590.10,41.66 590.20,47.21 590.30,40.35 590.40,46.10 590.50,43.44 590.60,44.32 590.70,43.38 590.80,40.66 590.90,44.94 591.00,39.46 591.10,43.82 591.20,42.01 591.30,41.73 591.40,44.26 591.50,44.65 591.60,41.56 591.70,43.06 591.80,44.15 591.90,46.51 592.00,42.24 592.10,43.23 592.20,37.64 592.30,46.61 592.40,43.10 592.50,44.94 592.60,41.70 592.70,46.50 592.80,41.98 592.90,42.93 593.00,37.62 593.10,45.95 593.20,44.78 593.30,38.42 593.40,45.75 593.50,39.85 593.60,42.11 593.70,46.58 593.80,44.22 593.90,44.71 594.00,41.99 594.10,41.49 594.20,39.60 594.30,44.11 594.40,40.08 594.50,42.51 594.60,41.13 594.70,41.55 594.80,43.56 594.90,42.81 595.00,42.01 595.10,39.94 595.20,43.50 595.30,43.56 595.40,46.70 595.50,39.34 595.60,39.71 595.70,42.29 595.80,40.27 595.90,40.76 596.00,43.84 596.10,42.21 596.20,45.35 596.30,42.97 596.40,45.22 596.50,41.55 596.60,45.08 596.70,41.27 596.80,40.88 596.90,41.67 597.00,41.19 597.10,43.70 597.20,41.90 597.30,44.68 597.40,41.15 597.50,48.51 597.60,43.20 597.70,43.64 597.80,41.62 597.90,39.59 598.00,45.88 598.10,39.64 598.20,41.39 598.30,43.44 598.40,45.73 598.50,39.71 598.60,45.24 598.70,42.18" fill="none" stroke="#EE4249" stroke-width="0.6" stroke-linejoin="round" />
<text x="322.20" y="34.20" font-size="12.2" font-weight="bold" text-anchor="start" fill="#EE3E44" letter-spacing="0.6">CCI</text>
<line x1="596.00" y1="57.80" x2="596.00" y2="73.40" stroke="#0f0f0f" stroke-width="1.5"/>
<line x1="595.25" y1="72.70" x2="622.40" y2="72.70" stroke="#0f0f0f" stroke-width="1.5"/>
<text x="601.60" y="66.00" font-size="9.6" font-weight="bold" text-anchor="start" fill="#0f0f0f" letter-spacing="0.1">20 pA</text>
<text x="594.40" y="84.90" font-size="9.8" font-weight="bold" text-anchor="start" fill="#0f0f0f" >400 ms</text>
<line x1="64.00" y1="120.20" x2="64.00" y2="307.60" stroke="#0f0f0f" stroke-width="1.9"/>
<line x1="56.20" y1="306.70" x2="189.20" y2="306.70" stroke="#0f0f0f" stroke-width="1.9"/>
<line x1="56.20" y1="306.70" x2="64.00" y2="306.70" stroke="#0f0f0f" stroke-width="1.8"/>
<text x="53.20" y="311.70" font-size="12.3" font-weight="bold" text-anchor="end" fill="#0f0f0f" letter-spacing="0.4">0</text>
<line x1="56.20" y1="260.15" x2="64.00" y2="260.15" stroke="#0f0f0f" stroke-width="1.8"/>
<text x="53.20" y="265.15" font-size="12.3" font-weight="bold" text-anchor="end" fill="#0f0f0f" letter-spacing="0.4">1</text>
<line x1="56.20" y1="213.60" x2="64.00" y2="213.60" stroke="#0f0f0f" stroke-width="1.8"/>
<text x="53.20" y="218.60" font-size="12.3" font-weight="bold" text-anchor="end" fill="#0f0f0f" letter-spacing="0.4">2</text>
<line x1="56.20" y1="167.05" x2="64.00" y2="167.05" stroke="#0f0f0f" stroke-width="1.8"/>
<text x="53.20" y="172.05" font-size="12.3" font-weight="bold" text-anchor="end" fill="#0f0f0f" letter-spacing="0.4">3</text>
<line x1="56.20" y1="120.50" x2="64.00" y2="120.50" stroke="#0f0f0f" stroke-width="1.8"/>
<text x="53.20" y="125.50" font-size="12.3" font-weight="bold" text-anchor="end" fill="#0f0f0f" letter-spacing="0.4">4</text>
<rect x="82.70" y="258.40" width="33.80" height="48.30" fill="#E6B47C" stroke="#0f0f0f" stroke-width="1.8"/>
<rect x="136.00" y="217.40" width="33.60" height="89.30" fill="#F44243" stroke="#0f0f0f" stroke-width="1.8"/>
<line x1="99.60" y1="306.70" x2="99.60" y2="314.60" stroke="#0f0f0f" stroke-width="1.8"/>
<text x="80.60" y="329.90" font-size="12.2" font-weight="bold" text-anchor="start" fill="#0f0f0f" letter-spacing="0.6">Sham</text>
<line x1="152.90" y1="306.70" x2="152.90" y2="314.60" stroke="#0f0f0f" stroke-width="1.8"/>
<text x="139.60" y="330.00" font-size="12.2" font-weight="bold" text-anchor="start" fill="#0f0f0f" letter-spacing="0.6">CCI</text>
<line x1="99.60" y1="253.00" x2="99.60" y2="262.00" stroke="#0f0f0f" stroke-width="1.0"/>
<line x1="90.90" y1="253.00" x2="108.30" y2="253.00" stroke="#0f0f0f" stroke-width="1.0"/>
<line x1="90.90" y1="262.00" x2="108.30" y2="262.00" stroke="#0f0f0f" stroke-width="1.0"/>
<line x1="152.85" y1="203.60" x2="152.85" y2="229.70" stroke="#0f0f0f" stroke-width="1.0"/>
<line x1="144.20" y1="203.60" x2="161.50" y2="203.60" stroke="#0f0f0f" stroke-width="1.0"/>
<line x1="144.20" y1="229.70" x2="161.50" y2="229.70" stroke="#0f0f0f" stroke-width="1.0"/>
<circle cx="99.40" cy="233.50" r="3.0" fill="none" stroke="#0f0f0f" stroke-width="1.0"/>
<circle cx="99.40" cy="240.40" r="3.0" fill="none" stroke="#0f0f0f" stroke-width="1.0"/>
<circle cx="107.10" cy="237.00" r="3.0" fill="none" stroke="#0f0f0f" stroke-width="1.0"/>
<circle cx="96.00" cy="255.50" r="3.0" fill="none" stroke="#0f0f0f" stroke-width="1.0"/>
<circle cx="103.00" cy="255.50" r="3.0" fill="none" stroke="#0f0f0f" stroke-width="1.0"/>
<circle cx="84.60" cy="264.80" r="3.0" fill="none" stroke="#0f0f0f" stroke-width="1.0"/>
<circle cx="92.10" cy="263.20" r="3.0" fill="none" stroke="#0f0f0f" stroke-width="1.0"/>
<circle cx="99.40" cy="266.90" r="3.0" fill="none" stroke="#0f0f0f" stroke-width="1.0"/>
<circle cx="106.90" cy="263.40" r="3.0" fill="none" stroke="#0f0f0f" stroke-width="1.0"/>
<circle cx="114.40" cy="264.80" r="3.0" fill="none" stroke="#0f0f0f" stroke-width="1.0"/>
<circle cx="99.40" cy="288.00" r="3.0" fill="none" stroke="#0f0f0f" stroke-width="1.0"/>
<circle cx="152.80" cy="134.40" r="3.0" fill="none" stroke="#0f0f0f" stroke-width="1.0"/>
<circle cx="152.90" cy="185.70" r="3.0" fill="none" stroke="#0f0f0f" stroke-width="1.0"/>
<circle cx="147.20" cy="208.60" r="3.0" fill="none" stroke="#0f0f0f" stroke-width="1.0"/>
<circle cx="158.30" cy="207.30" r="3.0" fill="none" stroke="#0f0f0f" stroke-width="1.0"/>
<circle cx="152.90" cy="222.80" r="3.0" fill="none" stroke="#0f0f0f" stroke-width="1.0"/>
<circle cx="147.20" cy="240.10" r="3.0" fill="none" stroke="#0f0f0f" stroke-width="1.0"/>
<circle cx="158.30" cy="236.60" r="3.0" fill="none" stroke="#0f0f0f" stroke-width="1.0"/>
<circle cx="158.30" cy="243.00" r="3.0" fill="none" stroke="#0f0f0f" stroke-width="1.0"/>
<circle cx="152.90" cy="269.40" r="3.0" fill="none" stroke="#0f0f0f" stroke-width="1.0"/>
<line x1="100.50" y1="116.70" x2="148.50" y2="116.70" stroke="#0f0f0f" stroke-width="1.8"/>
<path d="M119.20,101.40L119.20,108.60M116.08,103.20L122.32,106.80M116.08,106.80L122.32,103.20" stroke="#0f0f0f" stroke-width="1.35" stroke-linecap="round"/>
<circle cx="119.20" cy="105.00" r="1.2" fill="#0f0f0f"/>
<path d="M129.50,101.40L129.50,108.60M126.38,103.20L132.62,106.80M126.38,106.80L132.62,103.20" stroke="#0f0f0f" stroke-width="1.35" stroke-linecap="round"/>
<circle cx="129.50" cy="105.00" r="1.2" fill="#0f0f0f"/>
<text x="34.80" y="212.30" font-size="13.35" font-weight="bold" text-anchor="middle" fill="#0f0f0f" transform="rotate(-90 34.80 212.30)">mEPSC Frequency (HZ)</text>
<line x1="64.60" y1="400.90" x2="64.60" y2="586.40" stroke="#0f0f0f" stroke-width="1.9"/>
<line x1="56.60" y1="585.50" x2="189.20" y2="585.50" stroke="#0f0f0f" stroke-width="1.9"/>
<line x1="56.60" y1="585.50" x2="64.60" y2="585.50" stroke="#0f0f0f" stroke-width="1.8"/>
<text x="54.20" y="590.40" font-size="12.3" font-weight="bold" text-anchor="end" fill="#0f0f0f" letter-spacing="0.4">0</text>
<line x1="56.60" y1="548.65" x2="64.60" y2="548.65" stroke="#0f0f0f" stroke-width="1.8"/>
<text x="54.20" y="553.55" font-size="12.3" font-weight="bold" text-anchor="end" fill="#0f0f0f" letter-spacing="0.4">5</text>
<line x1="56.60" y1="511.80" x2="64.60" y2="511.80" stroke="#0f0f0f" stroke-width="1.8"/>
<text x="54.20" y="516.70" font-size="12.3" font-weight="bold" text-anchor="end" fill="#0f0f0f" letter-spacing="0.4">10</text>
<line x1="56.60" y1="474.95" x2="64.60" y2="474.95" stroke="#0f0f0f" stroke-width="1.8"/>
<text x="54.20" y="479.85" font-size="12.3" font-weight="bold" text-anchor="end" fill="#0f0f0f" letter-spacing="0.4">15</text>
<line x1="56.60" y1="438.10" x2="64.60" y2="438.10" stroke="#0f0f0f" stroke-width="1.8"/>
<text x="54.20" y="443.00" font-size="12.3" font-weight="bold" text-anchor="end" fill="#0f0f0f" letter-spacing="0.4">20</text>
<line x1="56.60" y1="401.25" x2="64.60" y2="401.25" stroke="#0f0f0f" stroke-width="1.8"/>
<text x="54.20" y="406.15" font-size="12.3" font-weight="bold" text-anchor="end" fill="#0f0f0f" letter-spacing="0.4">25</text>
<rect x="83.60" y="491.70" width="33.30" height="93.80" fill="#E6B47C" stroke="#0f0f0f" stroke-width="1.8"/>
<rect x="136.00" y="451.20" width="33.80" height="134.30" fill="#F44243" stroke="#0f0f0f" stroke-width="1.8"/>
<line x1="99.80" y1="585.50" x2="99.80" y2="591.60" stroke="#0f0f0f" stroke-width="1.8"/>
<text x="78.40" y="606.60" font-size="12.2" font-weight="bold" text-anchor="start" fill="#0f0f0f" letter-spacing="0.6">Sham</text>
<line x1="152.40" y1="585.50" x2="152.40" y2="591.60" stroke="#0f0f0f" stroke-width="1.8"/>
<text x="140.20" y="606.60" font-size="12.2" font-weight="bold" text-anchor="start" fill="#0f0f0f" letter-spacing="0.6">CCI</text>
<line x1="99.80" y1="484.40" x2="99.80" y2="497.80" stroke="#0f0f0f" stroke-width="1.0"/>
<line x1="91.40" y1="484.40" x2="108.20" y2="484.40" stroke="#0f0f0f" stroke-width="1.0"/>
<line x1="91.40" y1="497.80" x2="108.20" y2="497.80" stroke="#0f0f0f" stroke-width="1.0"/>
<line x1="152.85" y1="442.40" x2="152.85" y2="458.40" stroke="#0f0f0f" stroke-width="1.0"/>
<line x1="144.10" y1="442.40" x2="161.60" y2="442.40" stroke="#0f0f0f" stroke-width="1.0"/>
<line x1="144.10" y1="458.40" x2="161.60" y2="458.40" stroke="#0f0f0f" stroke-width="1.0"/>
<circle cx="99.80" cy="450.50" r="3.0" fill="none" stroke="#0f0f0f" stroke-width="1.0"/>
<circle cx="99.80" cy="468.10" r="3.0" fill="none" stroke="#0f0f0f" stroke-width="1.0"/>
<circle cx="111.10" cy="464.70" r="3.0" fill="none" stroke="#0f0f0f" stroke-width="1.0"/>
<circle cx="99.80" cy="480.40" r="3.0" fill="none" stroke="#0f0f0f" stroke-width="1.0"/>
<circle cx="99.80" cy="489.10" r="3.0" fill="none" stroke="#0f0f0f" stroke-width="1.0"/>
<circle cx="88.80" cy="496.20" r="3.0" fill="none" stroke="#0f0f0f" stroke-width="1.0"/>
<circle cx="111.10" cy="496.20" r="3.0" fill="none" stroke="#0f0f0f" stroke-width="1.0"/>
<circle cx="99.80" cy="500.40" r="3.0" fill="none" stroke="#0f0f0f" stroke-width="1.0"/>
<circle cx="99.80" cy="514.10" r="3.0" fill="none" stroke="#0f0f0f" stroke-width="1.0"/>
<circle cx="94.10" cy="521.20" r="3.0" fill="none" stroke="#0f0f0f" stroke-width="1.0"/>
<circle cx="105.60" cy="521.20" r="3.0" fill="none" stroke="#0f0f0f" stroke-width="1.0"/>
<circle cx="152.80" cy="414.40" r="3.0" fill="none" stroke="#0f0f0f" stroke-width="1.0"/>
<circle cx="152.80" cy="428.20" r="3.0" fill="none" stroke="#0f0f0f" stroke-width="1.0"/>
<circle cx="147.20" cy="435.20" r="3.0" fill="none" stroke="#0f0f0f" stroke-width="1.0"/>
<circle cx="158.30" cy="436.50" r="3.0" fill="none" stroke="#0f0f0f" stroke-width="1.0"/>
<circle cx="147.20" cy="451.00" r="3.0" fill="none" stroke="#0f0f0f" stroke-width="1.0"/>
<circle cx="158.30" cy="454.20" r="3.0" fill="none" stroke="#0f0f0f" stroke-width="1.0"/>
<circle cx="152.40" cy="473.40" r="3.0" fill="none" stroke="#0f0f0f" stroke-width="1.0"/>
<circle cx="147.10" cy="480.70" r="3.0" fill="none" stroke="#0f0f0f" stroke-width="1.0"/>
<circle cx="158.40" cy="480.70" r="3.0" fill="none" stroke="#0f0f0f" stroke-width="1.0"/>
<line x1="102.10" y1="399.40" x2="150.00" y2="399.40" stroke="#0f0f0f" stroke-width="1.8"/>
<path d="M120.50,384.30L120.50,391.50M117.38,386.10L123.62,389.70M117.38,389.70L123.62,386.10" stroke="#0f0f0f" stroke-width="1.35" stroke-linecap="round"/>
<circle cx="120.50" cy="387.90" r="1.2" fill="#0f0f0f"/>
<path d="M131.20,384.30L131.20,391.50M128.08,386.10L134.32,389.70M128.08,389.70L134.32,386.10" stroke="#0f0f0f" stroke-width="1.35" stroke-linecap="round"/>
<circle cx="131.20" cy="387.90" r="1.2" fill="#0f0f0f"/>
<text x="23.60" y="496.10" font-size="13.5" font-weight="bold" text-anchor="middle" fill="#0f0f0f" transform="rotate(-90 23.60 496.10)">Amplitude(pA)</text>
<line x1="200.40" y1="677.30" x2="200.40" y2="829.90" stroke="#0f0f0f" stroke-width="1.9"/>
<line x1="193.00" y1="829.00" x2="301.30" y2="829.00" stroke="#0f0f0f" stroke-width="1.9"/>
<line x1="193.00" y1="829.00" x2="200.40" y2="829.00" stroke="#0f0f0f" stroke-width="1.8"/>
<text x="192.80" y="833.90" font-size="12.3" font-weight="bold" text-anchor="end" fill="#0f0f0f" letter-spacing="0.4">0.0</text>
<line x1="193.00" y1="791.20" x2="200.40" y2="791.20" stroke="#0f0f0f" stroke-width="1.8"/>
<text x="192.80" y="796.10" font-size="12.3" font-weight="bold" text-anchor="end" fill="#0f0f0f" letter-spacing="0.4">0.5</text>
<line x1="193.00" y1="753.40" x2="200.40" y2="753.40" stroke="#0f0f0f" stroke-width="1.8"/>
<text x="192.80" y="758.30" font-size="12.3" font-weight="bold" text-anchor="end" fill="#0f0f0f" letter-spacing="0.4">1.0</text>
<line x1="193.00" y1="715.60" x2="200.40" y2="715.60" stroke="#0f0f0f" stroke-width="1.8"/>
<text x="192.80" y="720.50" font-size="12.3" font-weight="bold" text-anchor="end" fill="#0f0f0f" letter-spacing="0.4">1.5</text>
<line x1="193.00" y1="677.80" x2="200.40" y2="677.80" stroke="#0f0f0f" stroke-width="1.8"/>
<text x="192.80" y="682.70" font-size="12.3" font-weight="bold" text-anchor="end" fill="#0f0f0f" letter-spacing="0.4">2.0</text>
<rect x="214.80" y="725.50" width="27.90" height="103.50" fill="#E6B47C" stroke="#0f0f0f" stroke-width="1.8"/>
<rect x="257.70" y="755.80" width="28.40" height="73.20" fill="#F44243" stroke="#0f0f0f" stroke-width="1.8"/>
<line x1="229.00" y1="829.00" x2="229.00" y2="835.30" stroke="#0f0f0f" stroke-width="1.8"/>
<text x="215.20" y="847.70" font-size="12.2" font-weight="bold" text-anchor="start" fill="#0f0f0f" letter-spacing="0.6">Sham</text>
<line x1="272.00" y1="829.00" x2="272.00" y2="835.30" stroke="#0f0f0f" stroke-width="1.8"/>
<text x="261.40" y="847.60" font-size="12.2" font-weight="bold" text-anchor="start" fill="#0f0f0f" letter-spacing="0.6">CCI</text>
<line x1="229.00" y1="717.40" x2="229.00" y2="733.20" stroke="#0f0f0f" stroke-width="1.0"/>
<line x1="222.10" y1="717.40" x2="235.90" y2="717.40" stroke="#0f0f0f" stroke-width="1.0"/>
<line x1="222.10" y1="733.20" x2="235.90" y2="733.20" stroke="#0f0f0f" stroke-width="1.0"/>
<line x1="272.00" y1="751.30" x2="272.00" y2="759.50" stroke="#0f0f0f" stroke-width="1.0"/>
<line x1="265.20" y1="751.30" x2="278.80" y2="751.30" stroke="#0f0f0f" stroke-width="1.0"/>
<line x1="265.20" y1="759.50" x2="278.80" y2="759.50" stroke="#0f0f0f" stroke-width="1.0"/>
<circle cx="228.70" cy="688.90" r="3.0" fill="none" stroke="#0f0f0f" stroke-width="1.0"/>
<circle cx="228.70" cy="698.40" r="3.0" fill="none" stroke="#0f0f0f" stroke-width="1.0"/>
<circle cx="219.50" cy="714.40" r="3.0" fill="none" stroke="#0f0f0f" stroke-width="1.0"/>
<circle cx="228.70" cy="716.10" r="3.0" fill="none" stroke="#0f0f0f" stroke-width="1.0"/>
<circle cx="228.70" cy="721.80" r="3.0" fill="none" stroke="#0f0f0f" stroke-width="1.0"/>
<circle cx="219.50" cy="740.40" r="3.0" fill="none" stroke="#0f0f0f" stroke-width="1.0"/>
<circle cx="237.60" cy="740.70" r="3.0" fill="none" stroke="#0f0f0f" stroke-width="1.0"/>
<circle cx="228.70" cy="745.00" r="3.0" fill="none" stroke="#0f0f0f" stroke-width="1.0"/>
<circle cx="228.70" cy="761.20" r="3.0" fill="none" stroke="#0f0f0f" stroke-width="1.0"/>
<circle cx="271.70" cy="729.70" r="3.0" fill="none" stroke="#0f0f0f" stroke-width="1.0"/>
<circle cx="267.80" cy="740.70" r="3.0" fill="none" stroke="#0f0f0f" stroke-width="1.0"/>
<circle cx="276.00" cy="740.20" r="3.0" fill="none" stroke="#0f0f0f" stroke-width="1.0"/>
<circle cx="259.90" cy="752.70" r="3.0" fill="none" stroke="#0f0f0f" stroke-width="1.0"/>
<circle cx="267.80" cy="754.90" r="3.0" fill="none" stroke="#0f0f0f" stroke-width="1.0"/>
<circle cx="276.00" cy="757.50" r="3.0" fill="none" stroke="#0f0f0f" stroke-width="1.0"/>
<circle cx="283.80" cy="756.20" r="3.0" fill="none" stroke="#0f0f0f" stroke-width="1.0"/>
<circle cx="259.90" cy="758.60" r="3.0" fill="none" stroke="#0f0f0f" stroke-width="1.0"/>
<circle cx="267.80" cy="762.50" r="3.0" fill="none" stroke="#0f0f0f" stroke-width="1.0"/>
<circle cx="276.00" cy="777.00" r="3.0" fill="none" stroke="#0f0f0f" stroke-width="1.0"/>
<circle cx="267.80" cy="780.90" r="3.0" fill="none" stroke="#0f0f0f" stroke-width="1.0"/>
<line x1="229.00" y1="670.60" x2="272.10" y2="670.60" stroke="#0f0f0f" stroke-width="1.8"/>
<path d="M245.40,657.20L245.40,663.80M242.54,658.85L248.26,662.15M242.54,662.15L248.26,658.85" stroke="#0f0f0f" stroke-width="1.35" stroke-linecap="round"/>
<circle cx="245.40" cy="660.50" r="1.2" fill="#0f0f0f"/>
<path d="M254.80,657.20L254.80,663.80M251.94,658.85L257.66,662.15M251.94,662.15L257.66,658.85" stroke="#0f0f0f" stroke-width="1.35" stroke-linecap="round"/>
<circle cx="254.80" cy="660.50" r="1.2" fill="#0f0f0f"/>
<text x="167.60" y="752.50" font-size="13.2" font-weight="bold" text-anchor="middle" fill="#0f0f0f" transform="rotate(-90 167.60 752.50)">PPR</text>
<line x1="582.60" y1="679.30" x2="582.60" y2="831.90" stroke="#0f0f0f" stroke-width="1.9"/>
<line x1="575.60" y1="831.00" x2="682.50" y2="831.00" stroke="#0f0f0f" stroke-width="1.9"/>
<line x1="575.60" y1="831.00" x2="582.60" y2="831.00" stroke="#0f0f0f" stroke-width="1.8"/>
<text x="576.00" y="835.50" font-size="12.3" font-weight="bold" text-anchor="end" fill="#0f0f0f" letter-spacing="0.4">0</text>
<line x1="575.60" y1="780.65" x2="582.60" y2="780.65" stroke="#0f0f0f" stroke-width="1.8"/>
<text x="576.00" y="785.15" font-size="12.3" font-weight="bold" text-anchor="end" fill="#0f0f0f" letter-spacing="0.4">5</text>
<line x1="575.60" y1="730.30" x2="582.60" y2="730.30" stroke="#0f0f0f" stroke-width="1.8"/>
<text x="576.00" y="734.80" font-size="12.3" font-weight="bold" text-anchor="end" fill="#0f0f0f" letter-spacing="0.4">10</text>
<line x1="575.60" y1="679.95" x2="582.60" y2="679.95" stroke="#0f0f0f" stroke-width="1.8"/>
<text x="576.00" y="684.45" font-size="12.3" font-weight="bold" text-anchor="end" fill="#0f0f0f" letter-spacing="0.4">15</text>
<rect x="597.70" y="775.20" width="27.70" height="55.80" fill="#E6B47C" stroke="#0f0f0f" stroke-width="1.8"/>
<rect x="640.70" y="755.80" width="27.40" height="75.20" fill="#F44243" stroke="#0f0f0f" stroke-width="1.8"/>
<line x1="611.40" y1="831.00" x2="611.40" y2="836.40" stroke="#0f0f0f" stroke-width="1.8"/>
<text x="596.80" y="849.40" font-size="12.2" font-weight="bold" text-anchor="start" fill="#0f0f0f" letter-spacing="0.6">Sham</text>
<line x1="654.40" y1="831.00" x2="654.40" y2="836.40" stroke="#0f0f0f" stroke-width="1.8"/>
<text x="644.20" y="849.40" font-size="12.2" font-weight="bold" text-anchor="start" fill="#0f0f0f" letter-spacing="0.6">CCI</text>
<line x1="611.30" y1="764.50" x2="611.30" y2="785.20" stroke="#0f0f0f" stroke-width="1.0"/>
<line x1="604.30" y1="764.50" x2="618.30" y2="764.50" stroke="#0f0f0f" stroke-width="1.0"/>
<line x1="604.30" y1="785.20" x2="618.30" y2="785.20" stroke="#0f0f0f" stroke-width="1.0"/>
<line x1="654.30" y1="739.50" x2="654.30" y2="771.50" stroke="#0f0f0f" stroke-width="1.0"/>
<line x1="647.30" y1="739.50" x2="661.30" y2="739.50" stroke="#0f0f0f" stroke-width="1.0"/>
<line x1="647.30" y1="771.50" x2="661.30" y2="771.50" stroke="#0f0f0f" stroke-width="1.0"/>
<circle cx="611.30" cy="759.50" r="3.0" fill="none" stroke="#0f0f0f" stroke-width="1.0"/>
<circle cx="611.30" cy="765.00" r="3.0" fill="none" stroke="#0f0f0f" stroke-width="1.0"/>
<circle cx="615.80" cy="775.90" r="3.0" fill="none" stroke="#0f0f0f" stroke-width="1.0"/>
<circle cx="606.80" cy="779.30" r="3.0" fill="none" stroke="#0f0f0f" stroke-width="1.0"/>
<circle cx="615.80" cy="783.10" r="3.0" fill="none" stroke="#0f0f0f" stroke-width="1.0"/>
<circle cx="606.80" cy="785.60" r="3.0" fill="none" stroke="#0f0f0f" stroke-width="1.0"/>
<circle cx="654.30" cy="734.70" r="3.0" fill="none" stroke="#0f0f0f" stroke-width="1.0"/>
<circle cx="649.80" cy="747.60" r="3.0" fill="none" stroke="#0f0f0f" stroke-width="1.0"/>
<circle cx="658.90" cy="744.90" r="3.0" fill="none" stroke="#0f0f0f" stroke-width="1.0"/>
<circle cx="658.90" cy="749.60" r="3.0" fill="none" stroke="#0f0f0f" stroke-width="1.0"/>
<circle cx="654.30" cy="760.40" r="3.0" fill="none" stroke="#0f0f0f" stroke-width="1.0"/>
<circle cx="654.30" cy="769.90" r="3.0" fill="none" stroke="#0f0f0f" stroke-width="1.0"/>
<circle cx="654.30" cy="780.60" r="3.0" fill="none" stroke="#0f0f0f" stroke-width="1.0"/>
<line x1="611.50" y1="716.50" x2="654.10" y2="716.50" stroke="#0f0f0f" stroke-width="1.8"/>
<path d="M632.50,702.90L632.50,709.90M629.47,704.65L635.53,708.15M629.47,708.15L635.53,704.65" stroke="#0f0f0f" stroke-width="1.35" stroke-linecap="round"/>
<circle cx="632.50" cy="706.40" r="1.2" fill="#0f0f0f"/>
<text x="557.80" y="760.80" font-size="13.4" font-weight="bold" text-anchor="middle" fill="#0f0f0f" transform="rotate(-90 557.80 760.80)">glutamate (μM )</text>
<line x1="339.00" y1="121.60" x2="339.00" y2="307.80" stroke="#0f0f0f" stroke-width="1.9"/>
<line x1="330.70" y1="306.90" x2="617.60" y2="306.90" stroke="#0f0f0f" stroke-width="1.9"/>
<line x1="330.70" y1="306.90" x2="339.00" y2="306.90" stroke="#0f0f0f" stroke-width="1.8"/>
<text x="327.20" y="311.90" font-size="12.3" font-weight="bold" text-anchor="end" fill="#0f0f0f" letter-spacing="0.4">0</text>
<line x1="330.70" y1="214.40" x2="339.00" y2="214.40" stroke="#0f0f0f" stroke-width="1.8"/>
<text x="327.20" y="219.40" font-size="12.3" font-weight="bold" text-anchor="end" fill="#0f0f0f" letter-spacing="0.4">50</text>
<line x1="330.70" y1="121.90" x2="339.00" y2="121.90" stroke="#0f0f0f" stroke-width="1.8"/>
<text x="327.20" y="126.90" font-size="12.3" font-weight="bold" text-anchor="end" fill="#0f0f0f" letter-spacing="0.4">100</text>
<line x1="339.00" y1="306.90" x2="339.00" y2="314.90" stroke="#0f0f0f" stroke-width="1.8"/>
<text x="339.00" y="331.00" font-size="12.3" font-weight="bold" text-anchor="middle" fill="#0f0f0f" letter-spacing="0.7">0</text>
<line x1="408.55" y1="306.90" x2="408.55" y2="314.90" stroke="#0f0f0f" stroke-width="1.8"/>
<text x="408.55" y="331.00" font-size="12.3" font-weight="bold" text-anchor="middle" fill="#0f0f0f" letter-spacing="0.7">2000</text>
<line x1="478.10" y1="306.90" x2="478.10" y2="314.90" stroke="#0f0f0f" stroke-width="1.8"/>
<text x="478.10" y="331.00" font-size="12.3" font-weight="bold" text-anchor="middle" fill="#0f0f0f" letter-spacing="0.7">4000</text>
<line x1="547.65" y1="306.90" x2="547.65" y2="314.90" stroke="#0f0f0f" stroke-width="1.8"/>
<text x="547.65" y="331.00" font-size="12.3" font-weight="bold" text-anchor="middle" fill="#0f0f0f" letter-spacing="0.7">6000</text>
<line x1="617.20" y1="306.90" x2="617.20" y2="314.90" stroke="#0f0f0f" stroke-width="1.8"/>
<text x="617.20" y="331.00" font-size="12.3" font-weight="bold" text-anchor="middle" fill="#0f0f0f" letter-spacing="0.7">8000</text>
<polyline points="339.20,306.00 339.41,304.45 339.98,302.79 339.93,301.28 339.95,299.63 340.51,298.23 340.37,296.29 340.61,295.05 341.28,292.92 341.72,291.97 341.74,290.13 341.63,288.11 342.13,286.55 342.14,285.08 342.27,283.64 342.80,282.31 343.10,280.57 343.33,278.99 343.54,277.13 344.16,276.04 344.30,274.24 344.17,272.31 344.42,270.56 345.03,269.16 345.35,267.51 345.70,266.20 345.30,264.12 346.21,262.67 346.53,260.98 346.17,259.51 346.93,257.62 346.72,256.03 347.60,254.69 347.28,252.70 347.54,250.93 348.30,249.38 348.40,247.93 348.41,246.50 348.64,244.80 349.15,243.09 349.74,241.43 350.80,240.25 350.85,238.75 351.31,236.85 352.28,235.47 352.28,234.15 352.88,232.09 353.79,230.58 353.92,228.78 354.23,227.52 354.80,225.91 355.35,224.19 356.22,222.59 356.41,221.24 356.60,219.12 357.57,217.96 357.56,215.90 358.37,214.81 358.57,213.19 359.63,211.31 359.89,209.33 360.20,208.30 360.92,206.49 361.51,204.95 362.33,202.95 362.61,201.61 363.12,199.64 364.04,198.45 364.56,196.40 365.26,194.71 365.11,193.11 365.90,191.33 366.19,189.90 366.95,188.09 367.29,186.98 368.20,185.18 368.48,183.48 368.58,181.46 368.98,180.43 369.94,178.82 370.29,177.10 371.44,175.66 372.16,174.35 372.82,172.53 374.11,171.28 374.94,169.64 375.81,168.29 376.67,166.68 378.23,165.36 379.07,163.85 380.55,162.25 381.25,160.67 382.08,159.38 382.59,157.95 384.10,156.67 384.77,154.87 385.64,153.56 386.30,152.29 386.91,150.78 388.18,149.66 389.81,148.39 391.28,147.56 392.53,146.84 393.59,145.20 394.94,144.65 396.18,143.28 397.98,142.61 399.32,142.27 400.89,141.62 402.46,140.95 404.54,140.79 406.25,139.92 407.70,139.37 409.05,139.00 411.08,138.60 412.54,138.03 413.78,136.84 415.44,136.26 416.82,135.72 418.65,135.13 419.98,134.73 421.99,133.81 422.90,132.87 425.01,132.34 426.45,132.17 427.72,131.78 429.06,130.78 430.92,130.16 432.73,129.77 433.80,129.09 435.69,128.83 437.24,128.43 438.92,128.10 440.38,127.03 441.78,126.48 443.09,126.47 445.21,126.06 446.53,125.96 448.46,125.87 450.03,125.83 451.51,125.64 453.49,124.94 455.14,125.18 456.21,124.78 458.19,124.89 459.66,124.56 461.67,124.63 463.36,124.31 464.81,124.04 466.51,124.38 468.10,124.22 469.45,124.26 471.64,124.22 472.98,124.00 474.47,124.00 476.50,123.52 477.61,123.49 479.59,123.63 481.19,123.03 483.07,122.96 484.71,122.95 486.03,123.29 487.55,122.75 489.42,123.12 491.26,123.06 492.94,122.89 494.55,122.57 495.65,122.84 497.31,122.95 499.17,122.77 500.92,122.76 502.16,122.60 504.14,122.93 505.31,122.86 507.45,122.60 508.78,122.34 510.37,122.51 512.02,122.14 513.89,122.45 515.10,122.62 516.82,122.36 518.52,122.03 520.03,122.24 521.96,122.58 523.13,122.25 524.67,122.20 526.80,122.51 528.21,122.09 529.65,122.28 531.81,121.92 533.35,121.83 534.59,121.95 536.58,122.00 537.99,122.19 539.46,122.25 541.12,122.08 542.85,121.85 544.69,122.00 546.23,121.96 547.98,121.77 549.40,122.08 551.35,121.99 553.14,122.03 554.79,121.75 556.35,122.14 558.11,121.77 559.35,122.18 560.92,122.22 563.04,121.60 564.23,121.99 565.89,121.54 567.70,121.80" fill="none" stroke="#E2AC72" stroke-width="1.6" stroke-linejoin="round" />
<polyline points="339.20,306.00 339.58,304.32 339.69,302.49 339.56,301.25 339.44,299.29 340.05,298.16 340.39,295.98 340.21,294.81 340.35,293.13 340.28,291.07 340.36,289.43 340.82,288.14 340.97,286.25 340.85,284.67 341.45,283.59 341.66,281.34 341.19,280.32 341.62,278.57 341.67,276.75 341.95,275.10 342.16,273.20 342.38,272.16 342.16,270.27 342.70,268.62 342.47,266.84 342.84,265.12 343.25,264.05 343.26,262.48 343.36,260.54 343.49,259.00 343.90,257.59 343.54,256.05 344.03,254.34 344.23,252.47 344.43,251.18 344.44,249.49 344.69,247.62 344.86,245.77 344.79,244.44 344.76,242.75 345.40,241.32 345.31,239.93 345.82,237.90 346.01,236.44 346.12,234.71 346.65,233.27 346.64,231.74 347.04,229.61 346.98,228.50 346.93,226.65 346.99,224.89 347.41,223.21 347.53,222.16 347.94,220.27 348.43,218.70 348.65,217.14 348.72,215.13 348.77,213.99 348.58,212.50 349.02,210.57 349.39,208.98 350.06,207.07 350.66,205.71 350.73,204.23 350.98,202.40 351.54,200.99 351.64,199.49 352.01,197.39 352.34,195.80 352.64,194.69 353.16,193.19 353.77,190.99 354.36,190.03 354.13,188.43 354.79,186.55 355.59,184.81 355.69,183.71 356.24,181.81 356.84,180.47 356.99,178.40 357.42,177.06 357.54,175.20 358.18,173.67 358.53,172.47 358.95,170.61 359.46,169.14 360.36,167.80 361.28,166.67 361.86,164.75 362.20,163.79 363.43,162.18 363.90,160.51 364.90,159.29 365.60,157.92 366.48,156.18 367.16,155.32 368.66,153.84 369.08,151.86 370.27,150.70 371.55,149.07 372.53,147.63 373.24,146.65 374.60,145.20 375.51,143.68 376.80,142.65 378.57,142.06 379.50,140.61 381.42,140.03 382.79,138.80 383.70,137.38 385.12,136.01 386.16,134.99 387.08,133.23 388.74,132.53 389.88,131.18 391.02,130.56 392.37,129.04 394.08,128.36 395.53,127.26 397.32,126.40 398.65,126.11 400.28,125.16 402.46,124.74 403.90,124.21 405.70,124.48 407.46,123.92 409.45,124.10 411.34,124.22 413.09,123.73 414.76,123.50 416.17,123.43 418.26,123.70 419.44,123.24 421.18,123.16 422.86,123.10 424.37,123.14 426.45,123.04 428.14,122.98 429.33,123.03 431.48,122.62 432.54,122.70 434.56,122.66 436.51,122.63 438.06,122.14 439.53,122.57 440.87,121.99 442.98,122.48 444.18,122.22 445.88,122.21 447.89,121.78 449.25,122.07 451.12,121.99 452.69,121.67 454.76,121.88 456.10,121.77 457.93,121.87 459.73,121.65 461.34,121.81 463.02,121.89 464.68,121.93 466.43,121.73 467.80,121.77 469.66,121.55 471.06,121.33 472.96,121.91 474.37,121.31 475.92,121.47 477.65,121.84 479.15,121.36 480.86,121.58 482.99,121.23 484.16,121.41 486.19,121.70 487.80,121.40" fill="none" stroke="#EC2E36" stroke-width="1.6" stroke-linejoin="round" />
<text x="295.00" y="216.00" font-size="13.45" font-weight="bold" text-anchor="middle" fill="#0f0f0f" transform="rotate(-90 295.00 216.00)">Relative frequency (percentages)</text>
<text x="467.80" y="352.00" font-size="13.4" font-weight="bold" text-anchor="middle" fill="#0f0f0f" letter-spacing="0.14">Inter-event-interval (ms)</text>
<line x1="512.00" y1="249.90" x2="531.40" y2="249.90" stroke="#E2AC72" stroke-width="2.1"/>
<text x="541.80" y="255.70" font-size="12.8" font-weight="normal" text-anchor="start" fill="#0f0f0f" letter-spacing="0.4">Sham</text>
<line x1="512.00" y1="274.70" x2="531.40" y2="274.70" stroke="#EC2E36" stroke-width="2.1"/>
<text x="541.80" y="279.60" font-size="12.8" font-weight="normal" text-anchor="start" fill="#0f0f0f" letter-spacing="0.4">CCI</text>
<line x1="340.40" y1="400.70" x2="340.40" y2="585.90" stroke="#0f0f0f" stroke-width="1.9"/>
<line x1="332.30" y1="585.00" x2="616.80" y2="585.00" stroke="#0f0f0f" stroke-width="1.9"/>
<line x1="332.30" y1="585.00" x2="340.40" y2="585.00" stroke="#0f0f0f" stroke-width="1.8"/>
<text x="329.00" y="590.00" font-size="12.3" font-weight="bold" text-anchor="end" fill="#0f0f0f" letter-spacing="0.4">0</text>
<line x1="332.30" y1="493.00" x2="340.40" y2="493.00" stroke="#0f0f0f" stroke-width="1.8"/>
<text x="329.00" y="498.00" font-size="12.3" font-weight="bold" text-anchor="end" fill="#0f0f0f" letter-spacing="0.4">50</text>
<line x1="332.30" y1="401.00" x2="340.40" y2="401.00" stroke="#0f0f0f" stroke-width="1.8"/>
<text x="329.00" y="406.00" font-size="12.3" font-weight="bold" text-anchor="end" fill="#0f0f0f" letter-spacing="0.4">100</text>
<line x1="340.40" y1="585.00" x2="340.40" y2="593.00" stroke="#0f0f0f" stroke-width="1.8"/>
<text x="340.40" y="609.00" font-size="12.3" font-weight="bold" text-anchor="middle" fill="#0f0f0f" letter-spacing="0.7">0</text>
<line x1="395.60" y1="585.00" x2="395.60" y2="593.00" stroke="#0f0f0f" stroke-width="1.8"/>
<text x="395.60" y="609.00" font-size="12.3" font-weight="bold" text-anchor="middle" fill="#0f0f0f" letter-spacing="0.7">20</text>
<line x1="450.80" y1="585.00" x2="450.80" y2="593.00" stroke="#0f0f0f" stroke-width="1.8"/>
<text x="450.80" y="609.00" font-size="12.3" font-weight="bold" text-anchor="middle" fill="#0f0f0f" letter-spacing="0.7">40</text>
<line x1="506.00" y1="585.00" x2="506.00" y2="593.00" stroke="#0f0f0f" stroke-width="1.8"/>
<text x="506.00" y="609.00" font-size="12.3" font-weight="bold" text-anchor="middle" fill="#0f0f0f" letter-spacing="0.7">60</text>
<line x1="561.20" y1="585.00" x2="561.20" y2="593.00" stroke="#0f0f0f" stroke-width="1.8"/>
<text x="561.20" y="609.00" font-size="12.3" font-weight="bold" text-anchor="middle" fill="#0f0f0f" letter-spacing="0.7">80</text>
<line x1="616.40" y1="585.00" x2="616.40" y2="593.00" stroke="#0f0f0f" stroke-width="1.8"/>
<text x="616.40" y="609.00" font-size="12.3" font-weight="bold" text-anchor="middle" fill="#0f0f0f" letter-spacing="0.7">100</text>
<polyline points="354.50,584.90 354.85,583.36 355.56,581.71 355.65,580.22 355.81,578.58 356.50,577.20 356.51,575.27 356.89,574.04 357.69,571.92 358.27,570.99 358.43,569.16 358.46,567.16 358.97,565.49 358.99,563.92 359.13,562.37 359.68,560.94 359.99,559.10 360.23,557.41 360.45,555.44 361.08,554.25 361.23,552.35 361.12,550.31 361.35,548.50 361.80,547.08 361.97,545.43 362.16,544.10 361.60,542.01 362.35,540.54 362.51,538.85 361.98,537.36 362.59,535.46 362.22,533.86 362.94,532.51 362.46,530.50 362.56,528.73 363.16,527.16 363.11,525.70 362.96,524.26 363.03,522.55 363.13,520.74 363.33,518.99 364.00,517.72 363.67,516.13 363.74,514.14 364.32,512.66 363.93,511.26 364.15,509.10 364.67,507.50 364.48,505.68 364.47,504.39 364.71,502.75 364.93,501.00 365.48,499.38 365.35,498.00 365.21,495.85 365.85,494.67 365.52,492.58 366.04,491.49 365.84,489.88 366.50,488.03 366.35,486.06 366.26,485.05 366.58,483.25 366.77,481.72 367.18,479.73 367.07,478.42 367.17,476.46 367.69,475.28 367.90,473.26 368.29,471.59 368.01,470.00 368.66,468.21 368.82,466.79 369.45,464.98 369.65,463.87 370.44,462.07 370.58,460.38 370.55,458.35 370.81,457.33 371.64,455.72 371.75,453.75 372.65,452.06 373.12,450.50 373.54,448.43 374.58,446.93 375.17,445.04 375.91,443.67 376.30,441.99 377.38,440.60 377.74,439.02 378.75,437.35 379.29,435.70 379.96,434.34 380.31,432.84 381.65,431.49 382.16,429.62 383.58,428.60 384.80,427.62 385.97,426.40 387.35,425.13 389.09,423.71 390.64,422.72 391.98,421.83 393.13,420.02 394.56,419.30 395.89,417.77 397.93,417.35 399.16,416.74 400.63,415.82 402.09,414.88 404.06,414.46 405.67,413.32 407.01,412.75 408.26,412.35 410.30,412.08 411.77,411.63 413.02,410.56 414.70,410.11 416.09,409.68 417.93,409.22 419.27,408.94 421.44,408.49 422.50,408.03 424.76,407.86 426.35,408.06 427.77,408.04 429.26,407.41 431.27,407.16 433.23,407.13 434.45,406.83 436.49,406.94 438.19,406.91 440.02,407.04 441.63,406.43 443.18,406.33 444.56,406.45 446.75,406.17 448.14,406.20 450.14,406.24 451.78,406.32 453.33,406.27 455.38,405.69 457.10,406.06 458.21,405.65 460.23,405.74 461.73,405.28 463.75,405.22 465.47,404.77 466.93,404.36 468.66,404.57 470.27,404.28 471.64,404.19 473.85,404.02 475.21,403.67 476.73,403.53 478.78,402.92 479.91,402.76 481.89,402.90 483.49,402.29 485.37,402.22 487.01,402.20 488.33,402.54 489.85,402.00 491.76,402.31 493.64,402.20 495.36,401.97 497.01,401.59 498.15,401.81 499.85,401.86 501.72,401.70 503.50,401.71 504.75,401.57 506.75,401.91 507.93,401.86 510.09,401.61 511.44,401.37 513.05,401.57 514.72,401.22 516.61,401.54 517.83,401.72 519.58,401.49 521.29,401.17 522.81,401.40 524.73,401.74 525.88,401.41 527.41,401.36 529.52,401.67 530.91,401.25 532.34,401.44 534.48,401.08 536.00,400.99 537.22,401.12 539.19,401.17 540.59,401.36 542.04,401.42 543.68,401.25 545.40,401.01 547.22,401.16 548.74,401.13 550.48,400.93 551.88,401.25 553.81,401.16 555.59,401.20 557.22,400.92 558.76,401.30 560.51,400.94 561.72,401.35 563.28,401.39 565.38,400.76 566.55,401.16 568.19,400.70 570.22,400.91 571.82,400.69 573.18,401.06 574.53,400.71 576.50,400.90" fill="none" stroke="#E2AC72" stroke-width="1.6" stroke-linejoin="round" />
<polyline points="356.40,584.90 357.49,583.85 358.66,581.96 359.30,581.08 360.27,579.70 361.02,577.93 361.92,576.58 362.63,575.35 363.03,573.54 363.15,572.03 363.99,571.02 364.44,568.84 364.23,567.88 364.90,566.20 365.19,564.43 365.71,562.85 366.13,560.94 366.56,559.89 366.56,558.00 367.31,556.34 367.29,554.55 367.88,552.82 368.51,551.75 368.74,550.17 369.04,548.23 369.39,546.67 370.01,545.26 369.87,543.71 370.57,541.99 371.00,540.18 371.44,538.95 371.69,537.31 372.12,535.50 372.47,533.71 372.59,532.43 372.74,530.79 373.56,529.42 373.66,528.09 374.35,526.10 374.73,524.71 375.02,523.02 375.78,521.60 376.00,520.09 376.63,517.98 376.81,516.89 376.99,515.06 377.27,513.32 377.93,511.66 378.28,510.63 378.92,508.75 379.64,507.20 380.09,505.65 380.40,503.67 380.68,502.55 380.72,501.07 381.24,499.16 381.67,497.58 382.41,495.68 383.08,494.34 383.22,492.87 383.69,491.09 384.48,489.73 384.80,488.28 385.39,486.23 385.94,484.69 386.46,483.63 387.21,482.17 388.04,480.02 388.79,479.09 388.73,477.50 389.57,475.64 390.53,473.92 390.96,472.92 391.85,471.10 392.77,469.85 393.25,467.87 394.01,466.61 394.47,464.84 395.44,463.40 396.12,462.29 396.88,460.52 397.71,459.13 398.59,457.72 399.72,456.66 400.51,454.80 401.05,453.90 402.50,452.35 403.18,450.75 404.38,449.60 405.29,448.28 406.38,446.62 407.00,445.81 408.44,444.38 408.80,442.45 409.94,441.35 411.25,439.74 412.26,438.34 413.00,437.38 414.39,435.96 415.33,434.48 416.28,433.00 417.72,431.96 418.31,430.08 419.89,429.05 420.92,427.38 421.75,426.03 423.47,425.08 424.81,424.49 426.03,423.16 427.77,422.39 429.00,420.98 430.22,420.31 431.65,418.73 433.44,417.99 434.93,416.70 436.39,415.38 437.40,414.63 438.71,413.22 440.56,412.34 441.92,411.45 443.64,411.36 445.32,410.43 447.23,410.25 449.05,410.01 450.72,409.16 452.31,408.56 453.53,408.24 455.52,408.20 456.59,407.44 458.23,407.05 459.80,406.68 461.22,406.41 463.20,406.01 464.78,405.63 465.87,405.38 468.07,404.83 469.17,404.77 471.23,404.59 473.23,404.43 474.81,403.80 476.33,404.09 477.71,403.38 479.87,403.73 481.11,403.33 482.85,403.19 484.90,402.62 486.29,402.86 488.19,402.74 489.79,402.32 491.88,402.43 493.24,402.22 495.09,402.21 496.91,401.88 498.54,401.94 500.25,401.91 501.97,401.89 503.80,401.64 505.24,401.61 507.17,401.33 508.64,401.05 510.61,401.56 512.09,400.91 513.71,401.01 515.51,401.31 517.40,400.90" fill="none" stroke="#EC2E36" stroke-width="1.6" stroke-linejoin="round" />
<text x="297.20" y="496.30" font-size="13.45" font-weight="bold" text-anchor="middle" fill="#0f0f0f" transform="rotate(-90 297.20 496.30)">Relative frequency (percentages)</text>
<text x="460.00" y="629.00" font-size="13.3" font-weight="bold" text-anchor="middle" fill="#0f0f0f" >Amplitude (pA)</text>
<line x1="515.00" y1="517.70" x2="534.20" y2="517.70" stroke="#E2AC72" stroke-width="2.1"/>
<text x="542.20" y="522.60" font-size="12.8" font-weight="normal" text-anchor="start" fill="#0f0f0f" letter-spacing="0.4">Sham</text>
<line x1="515.00" y1="542.90" x2="534.20" y2="542.90" stroke="#EC2E36" stroke-width="2.1"/>
<text x="545.50" y="547.80" font-size="12.8" font-weight="normal" text-anchor="start" fill="#0f0f0f" letter-spacing="0.4">CCI</text>
<polyline points="16.40,693.40 21.00,693.40 21.50,687.00 21.70,693.00 23.20,690.00 24.50,691.50 26.00,712.00 27.60,727.80 29.50,723.00 32.70,710.40 36.50,705.00 40.90,701.20 45.00,698.50 51.10,696.10 56.00,695.00 61.30,694.70 65.00,695.50 69.50,696.10 74.00,695.50 78.70,694.70 79.70,694.50 79.70,694.50 80.50,690.00 82.00,693.00 84.00,718.00 86.40,746.20 88.50,740.00 91.00,725.00 94.00,716.50 98.00,710.00 102.20,705.30 107.00,702.00 112.40,699.20 117.00,697.50 122.60,695.70 128.00,695.30 133.90,695.10" fill="none" stroke="#EAD5B0" stroke-width="0.7" stroke-linejoin="round" />
<line x1="21.60" y1="686.90" x2="21.60" y2="761.00" stroke="#ECDCC0" stroke-width="0.9"/>
<line x1="80.30" y1="685.90" x2="80.30" y2="761.00" stroke="#ECDCC0" stroke-width="0.9"/>
<text x="13.40" y="676.20" font-size="12.5" font-weight="bold" text-anchor="start" fill="#E8BC88" letter-spacing="0.3">Sham</text>
<polyline points="18.20,778.50 22.80,778.00 23.40,772.00 24.00,777.00 25.20,775.00 26.50,776.00 28.00,786.70 30.50,815.00 32.20,834.60 34.50,828.00 37.40,817.10 41.50,809.00 46.70,803.10 52.00,797.00 58.40,792.60 64.00,790.00 70.10,787.90 75.00,786.00 80.60,784.40 81.50,784.00 81.50,784.00 82.50,776.00 83.20,783.00 84.10,782.00 85.50,784.00 87.60,800.70 89.20,825.00 90.60,844.00 92.50,840.00 95.80,828.80 99.00,818.00 102.80,810.00 108.00,803.50 116.80,797.20 123.80,794.90 128.00,793.50 135.00,791.90" fill="none" stroke="#DC5A62" stroke-width="0.7" stroke-linejoin="round" />
<line x1="23.40" y1="771.50" x2="23.40" y2="846.30" stroke="#D9535A" stroke-width="0.8"/>
<line x1="81.80" y1="771.00" x2="81.80" y2="846.30" stroke="#D9535A" stroke-width="0.8"/>
<text x="10.80" y="770.50" font-size="12.0" font-weight="bold" text-anchor="start" fill="#EE3E44" letter-spacing="0.6">CCI</text>
<line x1="112.60" y1="828.80" x2="112.60" y2="842.80" stroke="#0f0f0f" stroke-width="1.4"/>
<line x1="111.90" y1="842.10" x2="135.50" y2="842.10" stroke="#0f0f0f" stroke-width="1.4"/>
<text x="114.40" y="835.80" font-size="10.1" font-weight="bold" text-anchor="start" fill="#0f0f0f" letter-spacing="0.3">40 pA</text>
<text x="114.20" y="856.00" font-size="10.4" font-weight="bold" text-anchor="start" fill="#0f0f0f" >20 ms</text>
<line x1="344.70" y1="678.30" x2="344.70" y2="696.70" stroke="#555555" stroke-width="1.3"/>
<line x1="344.70" y1="687.80" x2="510.60" y2="687.80" stroke="#555555" stroke-width="1.3"/>
<line x1="424.30" y1="677.70" x2="424.30" y2="697.10" stroke="#555555" stroke-width="1.3"/>
<line x1="464.60" y1="682.80" x2="464.60" y2="692.40" stroke="#555555" stroke-width="1.1"/>
<line x1="510.60" y1="678.10" x2="510.60" y2="697.10" stroke="#555555" stroke-width="1.3"/>
<polygon points="344.7,698.2 341.1,705.6 348.5,705.6" fill="#333333"/>
<polygon points="424.3,698.3 420.6,706.0 428.2,706.0" fill="#333333"/>
<polygon points="465.0,670.4 472.8,670.4 468.9,677.6" fill="#333333"/>
<text x="338.30" y="675.30" font-size="9.5" font-weight="normal" text-anchor="start" fill="#333333" >D0</text>
<text x="415.20" y="672.30" font-size="9.5" font-weight="normal" text-anchor="start" fill="#333333" >D14</text>
<text x="435.20" y="686.00" font-size="9.4" font-weight="normal" text-anchor="start" fill="#333333" letter-spacing="0.3">2 h</text>
<text x="463.40" y="667.20" font-size="9.9" font-weight="normal" text-anchor="start" fill="#333333" >Pre-washing</text>
<text x="473.00" y="677.30" font-size="9.8" font-weight="normal" text-anchor="start" fill="#333333" >(30 min)</text>
<text x="321.40" y="717.40" font-size="9.9" font-weight="normal" text-anchor="start" fill="#333333" >CCI and probe</text>
<text x="321.40" y="727.80" font-size="10.0" font-weight="normal" text-anchor="start" fill="#333333" letter-spacing="0.1">cannula</text>
<text x="321.40" y="738.10" font-size="9.9" font-weight="normal" text-anchor="start" fill="#333333" >implantation</text>
<text x="394.80" y="717.70" font-size="9.9" font-weight="normal" text-anchor="start" fill="#333333" >Probe cannula</text>
<text x="399.40" y="727.90" font-size="9.8" font-weight="normal" text-anchor="start" fill="#333333" letter-spacing="0.2">implantation</text>
<text x="481.00" y="717.20" font-size="9.7" font-weight="normal" text-anchor="start" fill="#333333" letter-spacing="0.15">Microdialysis</text>
<text x="492.40" y="727.60" font-size="9.8" font-weight="normal" text-anchor="start" fill="#333333" >(40 min)</text>
<text x="384.30" y="746.20" font-size="9.8" font-weight="normal" text-anchor="start" fill="#333333" >Out</text>
<text x="480.00" y="761.20" font-size="9.8" font-weight="normal" text-anchor="start" fill="#333333" >In</text>
<text x="375.60" y="796.80" font-size="9.7" font-weight="normal" text-anchor="start" fill="#333333" >Probe</text>
<text x="369.80" y="807.60" font-size="9.8" font-weight="normal" text-anchor="start" fill="#333333" >cannula</text>
<text x="473.00" y="800.80" font-size="9.7" font-weight="normal" text-anchor="start" fill="#333333" >Probe</text>
<path d="M 394.3,822.4 C 396,819 399,817.5 403.8,817 L 418.4,818 C 424,818.8 429,819.8 431.5,821 L 433.5,819.6 L 434.2,823 C 438,823.5 443,824.5 446.1,826.1 C 449,827.5 450.9,829 450.6,830.8 C 450.2,832.8 448.5,834 446,834.5 C 443,835 440,835.5 437.5,836.8 C 436,839 436.2,842 437.8,844.6 L 441.5,848.4 L 439.8,849.8 C 437,848.5 434,846.5 430,844.3 C 427,843.3 424,843.5 421.3,843.6 C 416,844 411,844.5 408.2,845.2 L 410.5,848.5 L 409,849.6 C 405,849.3 402,849 400.9,848.7 C 399.5,847.8 399.2,846.5 399.4,845 C 397.5,844 395.5,843.4 393.6,843.2 C 392,841.5 391.4,838 391.4,834 C 391.5,829 392.4,825 394.3,822.4 Z" fill="#CCCCCC"/>
<path d="M 394.5,841.4 C 389,841.6 383,842.6 378,844 C 372,845.8 366.5,848.5 364,851.6 C 362.5,854 363.5,856.8 367.5,858.4 C 370.5,859.4 373.5,859.8 376.5,860 C 373,859 370,858 367.8,856.6 C 365.5,855 365.4,853 367,851.4 C 370,848.8 376,846.8 382,845.6 C 386,844.8 390,844.4 394.5,844.2 Z" fill="#CCCCCC"/>
<path d="M 408.8,847 L 413.2,848.2 L 414.8,850.2 L 410.8,849.6 Z" fill="#F2A365"/>
<path d="M 438.4,847.4 L 441.2,847.8 L 442.6,850.6 L 439.6,849.8 Z" fill="#F2A365"/>
<path d="M 409.7,745 C 412,749.5 414.5,754.5 416.9,759.1 C 420,764.5 422.5,768 425,771.9 C 427,775 428.5,778 429.8,781.6 C 431,785 432,788 433,791.2" fill="none" stroke="#4A84C4" stroke-width="1.7"/>
<path d="M 472.8,758 C 469.5,760.5 466.5,763.5 463.5,766.3 C 460,770 457,773.5 453.9,776.8 C 450.5,782 447,788 444.2,793.6" fill="none" stroke="#4A84C4" stroke-width="1.3"/>
<path d="M 430.3,789 L 432.9,789 L 436.9,804.6 L 434.3,804.6 Z" fill="#5A94D2"/>
<path d="M 443.1,794.1 L 445.3,794.1 L 443.5,804.6 L 439.1,804.6 Z" fill="#5A94D2"/>
<path d="M 432.2,804.3 L 444.2,804.3 L 444.5,811.5 L 441.8,817.4 L 436.8,817.4 L 432.5,813 Z" fill="#5E9AD8"/>
<rect x="437.6" y="817.4" width="2.9" height="8.1" fill="#F3EC8E" stroke="#CFC77A" stroke-width="0.4"/>
<line x1="412.90" y1="761.00" x2="407.66" y2="751.69" stroke="#111" stroke-width="1.2"/>
<polygon points="405.70,748.20 409.58,750.61 405.74,752.76" fill="#111"/>
<line x1="476.40" y1="765.80" x2="466.27" y2="776.32" stroke="#111" stroke-width="1.2"/>
<polygon points="463.50,779.20 464.69,774.79 467.86,777.84" fill="#111"/>
<line x1="468.90" y1="798.50" x2="448.99" y2="806.77" stroke="#111" stroke-width="1.2"/>
<polygon points="445.30,808.30 448.15,804.73 449.84,808.80" fill="#111"/>
<line x1="402.10" y1="807.30" x2="429.14" y2="817.13" stroke="#111" stroke-width="1.2"/>
<polygon points="432.90,818.50 428.39,819.20 429.89,815.07" fill="#111"/>
</svg>
</body></html>
